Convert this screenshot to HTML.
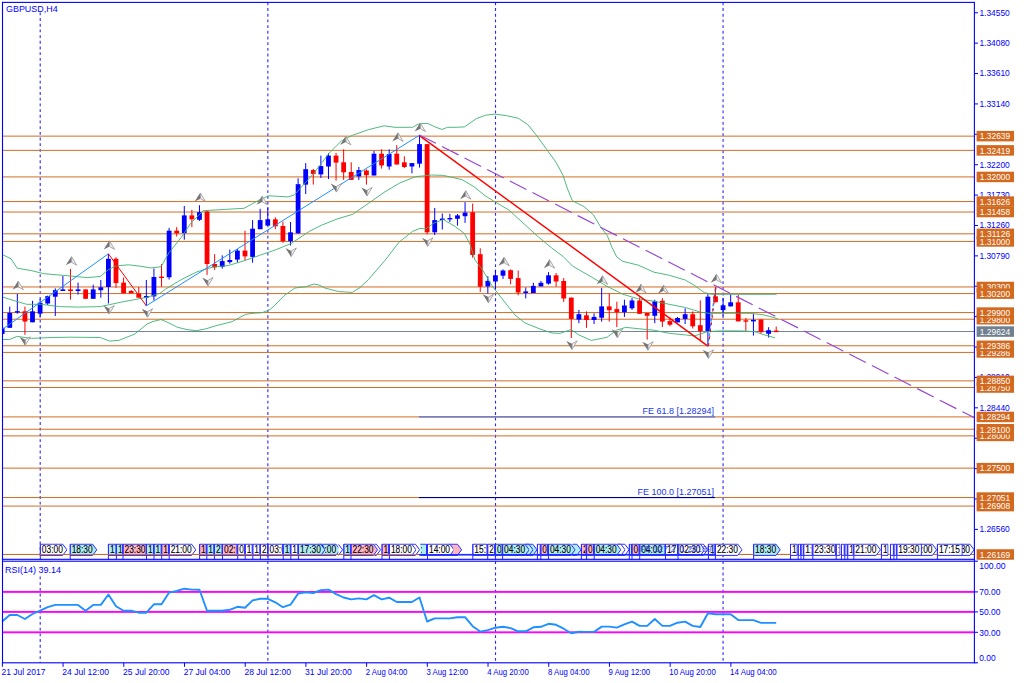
<!DOCTYPE html>
<html><head><meta charset="utf-8"><title>GBPUSD,H4</title>
<style>html,body{margin:0;padding:0;background:#fff;overflow:hidden}body{width:1024px;height:683px;font-family:"Liberation Sans",sans-serif}</style></head>
<body>
<svg width="1024" height="683" viewBox="0 0 1024 683" style="display:block">
<rect width="1024" height="683" fill="#fff"/>
<clipPath id="mainclip"><rect x="2.5" y="2" width="972" height="558"/></clipPath><g clip-path="url(#mainclip)">
<line x1="40.20" y1="12.4" x2="40.20" y2="559.3" stroke="#0000ff" stroke-width="1.1" stroke-dasharray="2.85 2.84" stroke-opacity="0.85"/>
<line x1="267.86" y1="2.4" x2="267.86" y2="559.3" stroke="#0000ff" stroke-width="1.1" stroke-dasharray="2.85 2.84" stroke-opacity="0.85"/>
<line x1="495.51" y1="2.4" x2="495.51" y2="559.3" stroke="#0000ff" stroke-width="1.1" stroke-dasharray="2.85 2.84" stroke-opacity="0.85"/>
<line x1="723.07" y1="2.4" x2="723.07" y2="559.3" stroke="#0000ff" stroke-width="1.1" stroke-dasharray="2.85 2.84" stroke-opacity="0.85"/>
<rect x="2.50" y="135.64" width="971.90" height="0.97" fill="#d2691e" />
<rect x="2.50" y="149.87" width="971.90" height="0.97" fill="#d2691e" />
<rect x="2.50" y="176.43" width="971.90" height="0.97" fill="#d2691e" />
<rect x="2.50" y="201.09" width="971.90" height="0.97" fill="#d2691e" />
<rect x="2.50" y="211.53" width="971.90" height="0.97" fill="#d2691e" />
<rect x="2.50" y="240.93" width="971.90" height="0.97" fill="#d2691e" />
<rect x="2.50" y="233.34" width="971.90" height="0.97" fill="#d2691e" />
<rect x="2.50" y="286.47" width="971.90" height="0.97" fill="#d2691e" />
<rect x="2.50" y="293.11" width="971.90" height="0.97" fill="#d2691e" />
<rect x="2.50" y="318.72" width="971.90" height="0.97" fill="#d2691e" />
<rect x="2.50" y="312.08" width="971.90" height="0.97" fill="#d2691e" />
<rect x="2.50" y="351.92" width="971.90" height="0.97" fill="#d2691e" />
<rect x="2.50" y="345.28" width="971.90" height="0.97" fill="#d2691e" />
<rect x="2.50" y="387.02" width="971.90" height="0.97" fill="#d2691e" />
<rect x="2.50" y="380.38" width="971.90" height="0.97" fill="#d2691e" />
<rect x="2.50" y="416.42" width="971.90" height="0.97" fill="#d2691e" />
<rect x="2.50" y="435.40" width="971.90" height="0.97" fill="#d2691e" />
<rect x="2.50" y="428.76" width="971.90" height="0.97" fill="#d2691e" />
<rect x="2.50" y="467.65" width="971.90" height="0.97" fill="#d2691e" />
<rect x="2.50" y="497.06" width="971.90" height="0.97" fill="#d2691e" />
<rect x="2.50" y="505.59" width="971.90" height="0.97" fill="#d2691e" />
<rect x="2.50" y="553.97" width="971.90" height="0.97" fill="#d2691e" />
<rect x="2.50" y="331.05" width="971.90" height="0.97" fill="#708090" />
<rect x="1.66" y="326.00" width="1.00" height="10.00" fill="#0000ff" />
<rect x="-0.24" y="327.80" width="4.8" height="6.20" fill="#0000ff"/>
<rect x="9.25" y="306.60" width="1.00" height="21.20" fill="#0000ff" />
<rect x="7.35" y="312.90" width="4.8" height="14.90" fill="#0000ff"/>
<rect x="16.84" y="294.00" width="1.00" height="19.70" fill="#0000ff" />
<rect x="14.94" y="311.15" width="4.8" height="1.40" fill="#0000ff"/>
<rect x="24.43" y="306.60" width="1.00" height="28.20" fill="#ff0000" />
<rect x="22.53" y="311.30" width="4.8" height="10.20" fill="#ff0000"/>
<rect x="32.01" y="300.80" width="1.00" height="21.50" fill="#0000ff" />
<rect x="30.11" y="311.30" width="4.8" height="11.00" fill="#0000ff"/>
<rect x="39.60" y="298.80" width="1.00" height="18.80" fill="#0000ff" />
<rect x="37.70" y="302.70" width="4.8" height="11.00" fill="#0000ff"/>
<rect x="47.19" y="295.60" width="1.00" height="9.40" fill="#0000ff" />
<rect x="45.29" y="296.10" width="4.8" height="7.40" fill="#0000ff"/>
<rect x="54.78" y="288.30" width="1.00" height="27.70" fill="#0000ff" />
<rect x="52.88" y="290.20" width="4.8" height="6.50" fill="#0000ff"/>
<rect x="62.37" y="276.00" width="1.00" height="15.00" fill="#0000ff" />
<rect x="60.47" y="289.40" width="4.8" height="1.60" fill="#0000ff"/>
<rect x="69.96" y="269.00" width="1.00" height="30.60" fill="#ff0000" />
<rect x="68.06" y="289.40" width="4.8" height="1.60" fill="#ff0000"/>
<rect x="77.54" y="282.60" width="1.00" height="11.90" fill="#0000ff" />
<rect x="75.64" y="289.40" width="4.8" height="1.60" fill="#0000ff"/>
<rect x="85.13" y="289.40" width="1.00" height="9.40" fill="#ff0000" />
<rect x="83.23" y="289.40" width="4.8" height="9.40" fill="#ff0000"/>
<rect x="92.72" y="284.70" width="1.00" height="14.10" fill="#0000ff" />
<rect x="90.82" y="289.40" width="4.8" height="9.40" fill="#0000ff"/>
<rect x="100.31" y="280.00" width="1.00" height="17.70" fill="#0000ff" />
<rect x="98.41" y="287.30" width="4.8" height="2.90" fill="#0000ff"/>
<rect x="107.90" y="253.80" width="1.00" height="49.70" fill="#0000ff" />
<rect x="106.00" y="258.80" width="4.8" height="28.20" fill="#0000ff"/>
<rect x="115.49" y="257.20" width="1.00" height="30.60" fill="#ff0000" />
<rect x="113.59" y="258.80" width="4.8" height="24.30" fill="#ff0000"/>
<rect x="123.08" y="277.60" width="1.00" height="15.70" fill="#ff0000" />
<rect x="121.18" y="282.60" width="4.8" height="10.70" fill="#ff0000"/>
<rect x="130.66" y="290.00" width="1.00" height="3.30" fill="#ff0000" />
<rect x="128.76" y="291.00" width="4.8" height="2.30" fill="#ff0000"/>
<rect x="138.25" y="287.00" width="1.00" height="10.70" fill="#ff0000" />
<rect x="136.35" y="293.60" width="4.8" height="4.10" fill="#ff0000"/>
<rect x="145.84" y="280.00" width="1.00" height="25.80" fill="#0000ff" />
<rect x="143.94" y="296.00" width="4.8" height="1.70" fill="#0000ff"/>
<rect x="153.43" y="268.50" width="1.00" height="32.00" fill="#0000ff" />
<rect x="151.53" y="277.00" width="4.8" height="19.40" fill="#0000ff"/>
<rect x="161.02" y="264.00" width="1.00" height="22.70" fill="#ff0000" />
<rect x="159.12" y="276.60" width="4.8" height="1.40" fill="#ff0000"/>
<rect x="168.61" y="227.90" width="1.00" height="51.70" fill="#0000ff" />
<rect x="166.71" y="230.70" width="4.8" height="46.60" fill="#0000ff"/>
<rect x="176.20" y="227.10" width="1.00" height="9.40" fill="#ff0000" />
<rect x="174.30" y="230.70" width="4.8" height="2.70" fill="#ff0000"/>
<rect x="183.78" y="206.00" width="1.00" height="33.70" fill="#0000ff" />
<rect x="181.88" y="215.40" width="4.8" height="17.70" fill="#0000ff"/>
<rect x="191.37" y="209.90" width="1.00" height="17.20" fill="#ff0000" />
<rect x="189.47" y="215.40" width="4.8" height="3.90" fill="#ff0000"/>
<rect x="198.96" y="205.20" width="1.00" height="15.70" fill="#0000ff" />
<rect x="197.06" y="212.20" width="4.8" height="7.60" fill="#0000ff"/>
<rect x="206.55" y="210.70" width="1.00" height="64.20" fill="#ff0000" />
<rect x="204.65" y="211.50" width="4.8" height="52.50" fill="#ff0000"/>
<rect x="214.14" y="254.20" width="1.00" height="15.70" fill="#ff0000" />
<rect x="212.24" y="264.00" width="4.8" height="3.40" fill="#ff0000"/>
<rect x="221.73" y="255.30" width="1.00" height="13.40" fill="#0000ff" />
<rect x="219.83" y="261.10" width="4.8" height="5.70" fill="#0000ff"/>
<rect x="229.31" y="249.50" width="1.00" height="14.20" fill="#0000ff" />
<rect x="227.41" y="260.00" width="4.8" height="2.10" fill="#0000ff"/>
<rect x="236.90" y="249.10" width="1.00" height="13.30" fill="#0000ff" />
<rect x="235.00" y="250.60" width="4.8" height="9.00" fill="#0000ff"/>
<rect x="244.49" y="230.70" width="1.00" height="29.80" fill="#ff0000" />
<rect x="242.59" y="250.60" width="4.8" height="5.80" fill="#ff0000"/>
<rect x="252.08" y="220.10" width="1.00" height="42.60" fill="#0000ff" />
<rect x="250.18" y="228.70" width="4.8" height="28.20" fill="#0000ff"/>
<rect x="259.67" y="208.80" width="1.00" height="20.40" fill="#0000ff" />
<rect x="257.77" y="220.10" width="4.8" height="9.10" fill="#0000ff"/>
<rect x="267.26" y="207.50" width="1.00" height="18.10" fill="#0000ff" />
<rect x="265.36" y="219.30" width="4.8" height="6.30" fill="#0000ff"/>
<rect x="274.85" y="217.30" width="1.00" height="11.90" fill="#ff0000" />
<rect x="272.95" y="219.30" width="4.8" height="7.00" fill="#ff0000"/>
<rect x="282.43" y="221.60" width="1.00" height="21.20" fill="#ff0000" />
<rect x="280.53" y="226.00" width="4.8" height="15.20" fill="#ff0000"/>
<rect x="290.02" y="222.00" width="1.00" height="23.50" fill="#0000ff" />
<rect x="288.12" y="232.30" width="4.8" height="8.90" fill="#0000ff"/>
<rect x="297.61" y="178.30" width="1.00" height="55.10" fill="#0000ff" />
<rect x="295.71" y="184.20" width="4.8" height="49.20" fill="#0000ff"/>
<rect x="305.20" y="163.10" width="1.00" height="30.90" fill="#0000ff" />
<rect x="303.30" y="169.20" width="4.8" height="15.40" fill="#0000ff"/>
<rect x="312.79" y="168.90" width="1.00" height="15.70" fill="#ff0000" />
<rect x="310.89" y="170.10" width="4.8" height="3.80" fill="#ff0000"/>
<rect x="320.38" y="155.60" width="1.00" height="22.40" fill="#0000ff" />
<rect x="318.48" y="166.10" width="4.8" height="8.30" fill="#0000ff"/>
<rect x="327.97" y="153.20" width="1.00" height="25.90" fill="#0000ff" />
<rect x="326.07" y="155.60" width="4.8" height="10.90" fill="#0000ff"/>
<rect x="335.55" y="152.90" width="1.00" height="27.70" fill="#ff0000" />
<rect x="333.65" y="155.60" width="4.8" height="7.00" fill="#ff0000"/>
<rect x="343.14" y="149.30" width="1.00" height="30.60" fill="#ff0000" />
<rect x="341.24" y="162.30" width="4.8" height="10.00" fill="#ff0000"/>
<rect x="350.73" y="162.30" width="1.00" height="17.60" fill="#ff0000" />
<rect x="348.83" y="172.00" width="4.8" height="7.90" fill="#ff0000"/>
<rect x="358.32" y="167.00" width="1.00" height="12.90" fill="#0000ff" />
<rect x="356.42" y="170.10" width="4.8" height="6.30" fill="#0000ff"/>
<rect x="365.91" y="169.40" width="1.00" height="15.20" fill="#ff0000" />
<rect x="364.01" y="170.50" width="4.8" height="4.70" fill="#ff0000"/>
<rect x="373.50" y="150.90" width="1.00" height="24.60" fill="#0000ff" />
<rect x="371.60" y="153.70" width="4.8" height="21.80" fill="#0000ff"/>
<rect x="381.09" y="149.30" width="1.00" height="19.30" fill="#ff0000" />
<rect x="379.19" y="153.70" width="4.8" height="11.70" fill="#ff0000"/>
<rect x="388.67" y="149.30" width="1.00" height="20.40" fill="#0000ff" />
<rect x="386.77" y="154.00" width="4.8" height="12.50" fill="#0000ff"/>
<rect x="396.26" y="145.10" width="1.00" height="19.40" fill="#ff0000" />
<rect x="394.36" y="153.70" width="4.8" height="10.80" fill="#ff0000"/>
<rect x="403.85" y="156.30" width="1.00" height="11.80" fill="#ff0000" />
<rect x="401.95" y="162.30" width="4.8" height="4.70" fill="#ff0000"/>
<rect x="411.44" y="163.10" width="1.00" height="10.20" fill="#0000ff" />
<rect x="409.54" y="163.10" width="4.8" height="3.40" fill="#0000ff"/>
<rect x="419.03" y="135.20" width="1.00" height="32.40" fill="#0000ff" />
<rect x="417.13" y="144.10" width="4.8" height="19.60" fill="#0000ff"/>
<rect x="426.62" y="144.10" width="1.00" height="90.40" fill="#ff0000" />
<rect x="424.72" y="144.10" width="4.8" height="88.20" fill="#ff0000"/>
<rect x="434.20" y="207.90" width="1.00" height="27.10" fill="#0000ff" />
<rect x="432.30" y="220.10" width="4.8" height="12.20" fill="#0000ff"/>
<rect x="441.79" y="213.50" width="1.00" height="16.00" fill="#0000ff" />
<rect x="439.89" y="218.60" width="4.8" height="1.40" fill="#0000ff"/>
<rect x="449.38" y="213.80" width="1.00" height="8.20" fill="#0000ff" />
<rect x="447.48" y="218.05" width="4.8" height="1.40" fill="#0000ff"/>
<rect x="456.97" y="214.10" width="1.00" height="11.50" fill="#0000ff" />
<rect x="455.07" y="215.40" width="4.8" height="3.40" fill="#0000ff"/>
<rect x="464.56" y="202.10" width="1.00" height="20.80" fill="#0000ff" />
<rect x="462.66" y="212.60" width="4.8" height="3.60" fill="#0000ff"/>
<rect x="472.15" y="203.60" width="1.00" height="54.10" fill="#ff0000" />
<rect x="470.25" y="212.20" width="4.8" height="42.70" fill="#ff0000"/>
<rect x="479.74" y="248.30" width="1.00" height="43.60" fill="#ff0000" />
<rect x="477.84" y="254.20" width="4.8" height="32.50" fill="#ff0000"/>
<rect x="487.32" y="276.20" width="1.00" height="17.20" fill="#0000ff" />
<rect x="485.42" y="280.90" width="4.8" height="5.50" fill="#0000ff"/>
<rect x="494.91" y="269.90" width="1.00" height="19.10" fill="#0000ff" />
<rect x="493.01" y="275.30" width="4.8" height="6.20" fill="#0000ff"/>
<rect x="502.50" y="269.40" width="1.00" height="9.50" fill="#0000ff" />
<rect x="500.60" y="270.50" width="4.8" height="5.20" fill="#0000ff"/>
<rect x="510.09" y="269.40" width="1.00" height="14.90" fill="#ff0000" />
<rect x="508.19" y="270.20" width="4.8" height="8.70" fill="#ff0000"/>
<rect x="517.68" y="270.50" width="1.00" height="24.80" fill="#ff0000" />
<rect x="515.78" y="278.10" width="4.8" height="14.40" fill="#ff0000"/>
<rect x="525.27" y="287.50" width="1.00" height="10.90" fill="#0000ff" />
<rect x="523.37" y="291.40" width="4.8" height="1.60" fill="#0000ff"/>
<rect x="532.85" y="282.80" width="1.00" height="10.20" fill="#0000ff" />
<rect x="530.95" y="285.90" width="4.8" height="7.10" fill="#0000ff"/>
<rect x="540.44" y="280.90" width="1.00" height="5.50" fill="#0000ff" />
<rect x="538.54" y="282.80" width="4.8" height="3.60" fill="#0000ff"/>
<rect x="548.03" y="272.10" width="1.00" height="12.50" fill="#0000ff" />
<rect x="546.13" y="275.30" width="4.8" height="8.30" fill="#0000ff"/>
<rect x="555.62" y="273.10" width="1.00" height="13.60" fill="#ff0000" />
<rect x="553.72" y="275.30" width="4.8" height="6.20" fill="#ff0000"/>
<rect x="563.21" y="278.10" width="1.00" height="23.90" fill="#ff0000" />
<rect x="561.31" y="281.00" width="4.8" height="17.50" fill="#ff0000"/>
<rect x="570.80" y="297.60" width="1.00" height="40.50" fill="#ff0000" />
<rect x="568.90" y="297.60" width="4.8" height="21.30" fill="#ff0000"/>
<rect x="578.39" y="309.90" width="1.00" height="13.30" fill="#0000ff" />
<rect x="576.49" y="314.20" width="4.8" height="5.40" fill="#0000ff"/>
<rect x="585.97" y="311.40" width="1.00" height="16.50" fill="#ff0000" />
<rect x="584.07" y="315.30" width="4.8" height="4.70" fill="#ff0000"/>
<rect x="593.56" y="313.30" width="1.00" height="10.70" fill="#0000ff" />
<rect x="591.66" y="316.90" width="4.8" height="3.10" fill="#0000ff"/>
<rect x="601.15" y="287.90" width="1.00" height="33.70" fill="#0000ff" />
<rect x="599.25" y="306.40" width="4.8" height="11.30" fill="#0000ff"/>
<rect x="608.74" y="293.40" width="1.00" height="28.20" fill="#ff0000" />
<rect x="606.84" y="306.40" width="4.8" height="3.80" fill="#ff0000"/>
<rect x="616.33" y="301.70" width="1.00" height="25.40" fill="#ff0000" />
<rect x="614.43" y="309.10" width="4.8" height="3.10" fill="#ff0000"/>
<rect x="623.92" y="299.70" width="1.00" height="17.20" fill="#0000ff" />
<rect x="622.02" y="305.50" width="4.8" height="6.70" fill="#0000ff"/>
<rect x="631.51" y="298.10" width="1.00" height="11.80" fill="#0000ff" />
<rect x="629.61" y="300.50" width="4.8" height="7.80" fill="#0000ff"/>
<rect x="639.09" y="297.30" width="1.00" height="16.50" fill="#ff0000" />
<rect x="637.19" y="300.50" width="4.8" height="13.30" fill="#ff0000"/>
<rect x="646.68" y="313.00" width="1.00" height="26.60" fill="#ff0000" />
<rect x="644.78" y="313.00" width="4.8" height="2.80" fill="#ff0000"/>
<rect x="654.27" y="299.70" width="1.00" height="23.50" fill="#0000ff" />
<rect x="652.37" y="301.20" width="4.8" height="14.60" fill="#0000ff"/>
<rect x="661.86" y="298.10" width="1.00" height="29.00" fill="#ff0000" />
<rect x="659.96" y="300.80" width="4.8" height="20.80" fill="#ff0000"/>
<rect x="669.45" y="317.70" width="1.00" height="8.60" fill="#ff0000" />
<rect x="667.55" y="321.10" width="4.8" height="3.60" fill="#ff0000"/>
<rect x="677.04" y="316.90" width="1.00" height="5.50" fill="#0000ff" />
<rect x="675.14" y="318.00" width="4.8" height="4.40" fill="#0000ff"/>
<rect x="684.62" y="308.30" width="1.00" height="15.70" fill="#0000ff" />
<rect x="682.73" y="314.20" width="4.8" height="4.70" fill="#0000ff"/>
<rect x="692.21" y="311.40" width="1.00" height="17.00" fill="#ff0000" />
<rect x="690.31" y="314.20" width="4.8" height="12.10" fill="#ff0000"/>
<rect x="699.80" y="300.40" width="1.00" height="39.60" fill="#ff0000" />
<rect x="697.90" y="325.20" width="4.8" height="6.00" fill="#ff0000"/>
<rect x="707.39" y="294.10" width="1.00" height="52.00" fill="#0000ff" />
<rect x="705.49" y="296.70" width="4.8" height="34.30" fill="#0000ff"/>
<rect x="714.98" y="287.00" width="1.00" height="15.20" fill="#ff0000" />
<rect x="713.08" y="296.30" width="4.8" height="5.90" fill="#ff0000"/>
<rect x="722.57" y="297.90" width="1.00" height="18.30" fill="#0000ff" />
<rect x="720.67" y="305.30" width="4.8" height="4.80" fill="#0000ff"/>
<rect x="730.16" y="294.30" width="1.00" height="12.10" fill="#0000ff" />
<rect x="728.26" y="302.30" width="4.8" height="4.10" fill="#0000ff"/>
<rect x="737.74" y="295.00" width="1.00" height="26.40" fill="#ff0000" />
<rect x="735.84" y="302.30" width="4.8" height="19.10" fill="#ff0000"/>
<rect x="745.33" y="318.00" width="1.00" height="12.90" fill="#ff0000" />
<rect x="743.43" y="320.30" width="4.8" height="1.40" fill="#ff0000"/>
<rect x="752.92" y="314.00" width="1.00" height="21.60" fill="#0000ff" />
<rect x="751.02" y="319.90" width="4.8" height="1.50" fill="#0000ff"/>
<rect x="760.51" y="319.50" width="1.00" height="14.00" fill="#ff0000" />
<rect x="758.61" y="319.50" width="4.8" height="12.60" fill="#ff0000"/>
<rect x="768.10" y="327.20" width="1.00" height="10.30" fill="#0000ff" />
<rect x="766.20" y="330.20" width="4.8" height="3.60" fill="#0000ff"/>
<rect x="775.69" y="326.50" width="1.00" height="5.60" fill="#ff0000" />
<rect x="773.79" y="330.60" width="4.8" height="1.50" fill="#ff0000"/>
<polyline points="3.1,254.9 11.0,258.8 17.2,268.2 31.3,270.6 43.9,273.7 62.7,275.3 78.4,276.8 87.8,277.6 100.3,276.4 108.2,269.8 116.0,265.9 128.5,264.8 141.0,266.3 150.5,267.9 161.0,266.8 168.8,253.0 181.3,237.3 190.8,223.2 203.3,210.7 244.0,208.3 259.7,199.7 269.0,195.8 288.0,196.9 294.2,195.0 299.4,189.3 313.5,173.6 329.2,153.2 341.7,140.7 352.7,135.2 368.4,129.7 384.0,125.8 395.0,127.3 412.6,127.3 418.4,124.1 423.1,123.5 427.8,123.5 436.0,127.3 441.9,129.4 447.7,127.3 455.0,127.3 464.5,126.9 476.2,118.7 485.6,115.2 495.0,114.1 506.7,115.7 518.4,118.3 527.8,124.6 537.2,136.3 546.5,149.2 555.9,162.1 562.9,175.0 567.6,189.0 572.3,200.7 584.0,206.6 593.4,214.8 600.4,226.5 607.4,235.9 612.1,247.6 616.8,257.0 622.7,261.3 638.4,265.2 654.0,272.2 669.7,275.4 685.4,280.1 694.8,285.6 704.2,292.6 712.0,294.3 776.5,294.3" fill="none" stroke="#3cb371" stroke-width="1.0" stroke-linejoin="round" stroke-opacity="0.9"/>
<polyline points="3.1,297.2 15.7,301.1 26.6,304.3 40.8,304.3 59.6,306.6 78.4,307.1 100.3,306.6 109.7,304.6 122.3,301.9 134.8,299.6 147.3,297.2 159.9,293.3 165.7,289.0 181.3,279.6 197.0,271.8 212.7,267.1 228.4,265.5 244.0,260.8 259.7,255.3 275.4,249.9 291.0,243.6 309.9,231.0 321.3,225.3 337.0,219.0 352.7,214.3 368.4,203.4 384.0,192.4 399.7,183.0 415.4,176.7 431.7,175.0 443.4,175.4 462.2,179.7 473.9,186.7 485.6,196.1 495.0,201.9 509.0,210.1 523.1,223.0 537.2,235.9 551.2,247.6 563.1,256.5 572.5,266.0 591.3,276.9 607.0,286.3 622.7,294.2 638.4,298.9 654.0,301.2 669.7,304.4 685.4,307.5 701.0,312.2 709.0,313.3 750.0,313.3 763.2,314.8 772.0,317.0 777.8,318.9" fill="none" stroke="#3cb371" stroke-width="1.0" stroke-linejoin="round" stroke-opacity="0.9"/>
<polyline points="3.1,339.5 9.4,339.5 17.2,336.4 31.3,338.4 51.7,337.5 70.5,337.2 100.3,337.5 109.7,341.1 119.1,340.3 134.8,334.0 147.3,323.9 153.0,321.5 160.9,319.5 168.0,322.5 177.3,327.2 187.0,329.6 196.5,330.7 206.0,328.8 215.6,325.8 232.0,321.7 245.7,314.3 254.0,313.2 262.1,312.7 270.3,309.4 277.0,303.0 284.0,295.7 294.9,288.0 305.9,286.7 314.0,284.0 319.0,285.0 325.0,288.0 338.7,291.6 352.3,292.4 360.0,287.5 368.7,279.3 385.2,260.2 398.8,242.4 412.5,231.4 420.0,228.4 425.9,228.9 434.1,223.0 443.4,219.5 455.1,226.5 464.5,233.6 470.4,245.3 475.0,260.0 482.7,270.2 492.1,285.9 504.6,302.0 515.0,315.0 525.0,323.0 540.0,329.0 552.0,333.0 560.0,333.4 571.0,329.5 578.8,334.9 591.3,340.4 607.0,337.3 616.4,330.2 625.8,327.4 638.4,328.7 654.0,330.2 669.7,333.4 685.4,334.9 694.4,336.0 707.6,331.6 719.3,330.9 741.2,330.9 754.4,331.6 763.2,334.5 775.0,337.8" fill="none" stroke="#3cb371" stroke-width="1.0" stroke-linejoin="round" stroke-opacity="0.9"/>
<rect x="418.90" y="416.36" width="296.10" height="1.10" fill="#4169e1" />
<rect x="418.90" y="496.99" width="296.10" height="1.10" fill="#000090" />
<rect x="418.90" y="553.96" width="296.10" height="1.40" fill="#2030ff" />
<polyline points="2.2,329.5 108.4,253.8" fill="none" stroke="#1e90ff" stroke-width="1.0" stroke-linejoin="round" />
<polyline points="108.4,253.8 146.3,305.8" fill="none" stroke="#ff0000" stroke-width="1.0" stroke-linejoin="round" />
<polyline points="146.3,305.8 419.5,135.2" fill="none" stroke="#1e90ff" stroke-width="1.0" stroke-linejoin="round" />
<polyline points="419.5,135.6 707.9,346.1" fill="none" stroke="#ff0000" stroke-width="1.45" stroke-linejoin="round" />
<line x1="707.9" y1="346.1" x2="715.5" y2="287" stroke="#1e90ff" stroke-width="1.2" stroke-dasharray="3 2"/>
<line x1="708.5" y1="346.1" x2="716.1" y2="287" stroke="#ff0000" stroke-width="1.0" stroke-dasharray="3 4"/>
<line x1="419.3" y1="134.9" x2="974" y2="417.6" stroke="#9545d2" stroke-width="1.15" stroke-dasharray="18.6 6.8"/>
<g transform="translate(18.0,285.5) scale(1,1)"><path d="M0,-4.6 L-5.5,4.2 L0.3,1.3 Z" fill="#757575" /><path d="M0.2,-4.4 L5.4,4.2 L0.4,1.4 Z" fill="#f0f0f0" stroke="#8f8f8f" stroke-width="0.75" stroke-linejoin="round"/></g>
<g transform="translate(71.3,261.0) scale(1,1)"><path d="M0,-4.6 L-5.5,4.2 L0.3,1.3 Z" fill="#757575" /><path d="M0.2,-4.4 L5.4,4.2 L0.4,1.4 Z" fill="#f0f0f0" stroke="#8f8f8f" stroke-width="0.75" stroke-linejoin="round"/></g>
<g transform="translate(109.2,245.2) scale(1,1)"><path d="M0,-4.6 L-5.5,4.2 L0.3,1.3 Z" fill="#757575" /><path d="M0.2,-4.4 L5.4,4.2 L0.4,1.4 Z" fill="#f0f0f0" stroke="#8f8f8f" stroke-width="0.75" stroke-linejoin="round"/></g>
<g transform="translate(200.2,197.4) scale(1,1)"><path d="M0,-4.6 L-5.5,4.2 L0.3,1.3 Z" fill="#757575" /><path d="M0.2,-4.4 L5.4,4.2 L0.4,1.4 Z" fill="#f0f0f0" stroke="#8f8f8f" stroke-width="0.75" stroke-linejoin="round"/></g>
<g transform="translate(262.0,200.5) scale(1,1)"><path d="M0,-4.6 L-5.5,4.2 L0.3,1.3 Z" fill="#757575" /><path d="M0.2,-4.4 L5.4,4.2 L0.4,1.4 Z" fill="#f0f0f0" stroke="#8f8f8f" stroke-width="0.75" stroke-linejoin="round"/></g>
<g transform="translate(345.6,140.7) scale(1,1)"><path d="M0,-4.6 L-5.5,4.2 L0.3,1.3 Z" fill="#757575" /><path d="M0.2,-4.4 L5.4,4.2 L0.4,1.4 Z" fill="#f0f0f0" stroke="#8f8f8f" stroke-width="0.75" stroke-linejoin="round"/></g>
<g transform="translate(397.8,137.2) scale(1,1)"><path d="M0,-4.6 L-5.5,4.2 L0.3,1.3 Z" fill="#757575" /><path d="M0.2,-4.4 L5.4,4.2 L0.4,1.4 Z" fill="#f0f0f0" stroke="#8f8f8f" stroke-width="0.75" stroke-linejoin="round"/></g>
<g transform="translate(420.1,127.4) scale(1,1)"><path d="M0,-4.6 L-5.5,4.2 L0.3,1.3 Z" fill="#757575" /><path d="M0.2,-4.4 L5.4,4.2 L0.4,1.4 Z" fill="#f0f0f0" stroke="#8f8f8f" stroke-width="0.75" stroke-linejoin="round"/></g>
<g transform="translate(465.5,195.0) scale(1,1)"><path d="M0,-4.6 L-5.5,4.2 L0.3,1.3 Z" fill="#757575" /><path d="M0.2,-4.4 L5.4,4.2 L0.4,1.4 Z" fill="#f0f0f0" stroke="#8f8f8f" stroke-width="0.75" stroke-linejoin="round"/></g>
<g transform="translate(503.9,261.6) scale(1,1)"><path d="M0,-4.6 L-5.5,4.2 L0.3,1.3 Z" fill="#757575" /><path d="M0.2,-4.4 L5.4,4.2 L0.4,1.4 Z" fill="#f0f0f0" stroke="#8f8f8f" stroke-width="0.75" stroke-linejoin="round"/></g>
<g transform="translate(549.3,264.0) scale(1,1)"><path d="M0,-4.6 L-5.5,4.2 L0.3,1.3 Z" fill="#757575" /><path d="M0.2,-4.4 L5.4,4.2 L0.4,1.4 Z" fill="#f0f0f0" stroke="#8f8f8f" stroke-width="0.75" stroke-linejoin="round"/></g>
<g transform="translate(602.3,280.1) scale(1,1)"><path d="M0,-4.6 L-5.5,4.2 L0.3,1.3 Z" fill="#757575" /><path d="M0.2,-4.4 L5.4,4.2 L0.4,1.4 Z" fill="#f0f0f0" stroke="#8f8f8f" stroke-width="0.75" stroke-linejoin="round"/></g>
<g transform="translate(640.7,288.7) scale(1,1)"><path d="M0,-4.6 L-5.5,4.2 L0.3,1.3 Z" fill="#757575" /><path d="M0.2,-4.4 L5.4,4.2 L0.4,1.4 Z" fill="#f0f0f0" stroke="#8f8f8f" stroke-width="0.75" stroke-linejoin="round"/></g>
<g transform="translate(663.4,289.5) scale(1,1)"><path d="M0,-4.6 L-5.5,4.2 L0.3,1.3 Z" fill="#757575" /><path d="M0.2,-4.4 L5.4,4.2 L0.4,1.4 Z" fill="#f0f0f0" stroke="#8f8f8f" stroke-width="0.75" stroke-linejoin="round"/></g>
<g transform="translate(716.2,278.6) scale(1,1)"><path d="M0,-4.6 L-5.5,4.2 L0.3,1.3 Z" fill="#757575" /><path d="M0.2,-4.4 L5.4,4.2 L0.4,1.4 Z" fill="#f0f0f0" stroke="#8f8f8f" stroke-width="0.75" stroke-linejoin="round"/></g>
<g transform="translate(25.0,341.0) scale(1,-1)"><path d="M0,-4.6 L-5.5,4.2 L0.3,1.3 Z" fill="#757575" /><path d="M0.2,-4.4 L5.4,4.2 L0.4,1.4 Z" fill="#f0f0f0" stroke="#8f8f8f" stroke-width="0.75" stroke-linejoin="round"/></g>
<g transform="translate(109.0,309.7) scale(1,-1)"><path d="M0,-4.6 L-5.5,4.2 L0.3,1.3 Z" fill="#757575" /><path d="M0.2,-4.4 L5.4,4.2 L0.4,1.4 Z" fill="#f0f0f0" stroke="#8f8f8f" stroke-width="0.75" stroke-linejoin="round"/></g>
<g transform="translate(147.3,312.9) scale(1,-1)"><path d="M0,-4.6 L-5.5,4.2 L0.3,1.3 Z" fill="#757575" /><path d="M0.2,-4.4 L5.4,4.2 L0.4,1.4 Z" fill="#f0f0f0" stroke="#8f8f8f" stroke-width="0.75" stroke-linejoin="round"/></g>
<g transform="translate(207.7,281.7) scale(1,-1)"><path d="M0,-4.6 L-5.5,4.2 L0.3,1.3 Z" fill="#757575" /><path d="M0.2,-4.4 L5.4,4.2 L0.4,1.4 Z" fill="#f0f0f0" stroke="#8f8f8f" stroke-width="0.75" stroke-linejoin="round"/></g>
<g transform="translate(291.0,252.2) scale(1,-1)"><path d="M0,-4.6 L-5.5,4.2 L0.3,1.3 Z" fill="#757575" /><path d="M0.2,-4.4 L5.4,4.2 L0.4,1.4 Z" fill="#f0f0f0" stroke="#8f8f8f" stroke-width="0.75" stroke-linejoin="round"/></g>
<g transform="translate(336.2,187.7) scale(1,-1)"><path d="M0,-4.6 L-5.5,4.2 L0.3,1.3 Z" fill="#757575" /><path d="M0.2,-4.4 L5.4,4.2 L0.4,1.4 Z" fill="#f0f0f0" stroke="#8f8f8f" stroke-width="0.75" stroke-linejoin="round"/></g>
<g transform="translate(366.8,191.6) scale(1,-1)"><path d="M0,-4.6 L-5.5,4.2 L0.3,1.3 Z" fill="#757575" /><path d="M0.2,-4.4 L5.4,4.2 L0.4,1.4 Z" fill="#f0f0f0" stroke="#8f8f8f" stroke-width="0.75" stroke-linejoin="round"/></g>
<g transform="translate(427.5,242.0) scale(1,-1)"><path d="M0,-4.6 L-5.5,4.2 L0.3,1.3 Z" fill="#757575" /><path d="M0.2,-4.4 L5.4,4.2 L0.4,1.4 Z" fill="#f0f0f0" stroke="#8f8f8f" stroke-width="0.75" stroke-linejoin="round"/></g>
<g transform="translate(488.2,298.4) scale(1,-1)"><path d="M0,-4.6 L-5.5,4.2 L0.3,1.3 Z" fill="#757575" /><path d="M0.2,-4.4 L5.4,4.2 L0.4,1.4 Z" fill="#f0f0f0" stroke="#8f8f8f" stroke-width="0.75" stroke-linejoin="round"/></g>
<g transform="translate(571.8,345.1) scale(1,-1)"><path d="M0,-4.6 L-5.5,4.2 L0.3,1.3 Z" fill="#757575" /><path d="M0.2,-4.4 L5.4,4.2 L0.4,1.4 Z" fill="#f0f0f0" stroke="#8f8f8f" stroke-width="0.75" stroke-linejoin="round"/></g>
<g transform="translate(617.2,333.4) scale(1,-1)"><path d="M0,-4.6 L-5.5,4.2 L0.3,1.3 Z" fill="#757575" /><path d="M0.2,-4.4 L5.4,4.2 L0.4,1.4 Z" fill="#f0f0f0" stroke="#8f8f8f" stroke-width="0.75" stroke-linejoin="round"/></g>
<g transform="translate(647.8,345.9) scale(1,-1)"><path d="M0,-4.6 L-5.5,4.2 L0.3,1.3 Z" fill="#757575" /><path d="M0.2,-4.4 L5.4,4.2 L0.4,1.4 Z" fill="#f0f0f0" stroke="#8f8f8f" stroke-width="0.75" stroke-linejoin="round"/></g>
<g transform="translate(708.2,354.0) scale(1,-1)"><path d="M0,-4.6 L-5.5,4.2 L0.3,1.3 Z" fill="#757575" /><path d="M0.2,-4.4 L5.4,4.2 L0.4,1.4 Z" fill="#f0f0f0" stroke="#8f8f8f" stroke-width="0.75" stroke-linejoin="round"/></g>
<text x="642.5" y="413.8" font-family="Liberation Sans, sans-serif" font-size="9.6" fill="#2038e8" text-anchor="start" textLength="71.5" lengthAdjust="spacingAndGlyphs" >FE 61.8 [1.28294]</text>
<text x="637.5" y="494.6" font-family="Liberation Sans, sans-serif" font-size="9.6" fill="#2038e8" text-anchor="start" textLength="76.5" lengthAdjust="spacingAndGlyphs" >FE 100.0 [1.27051]</text>
<g>
<clipPath id="fc0"><rect x="39.7" y="543.2" width="27.7" height="17.1"/></clipPath>
<g clip-path="url(#fc0)">
<path d="M40.3,544.2 H62.7 L66.9,549.80 L62.7,555.4 H40.3 Z" fill="#ffffff" stroke="#2a2aff" stroke-width="1"/>
<clipPath id="fc0t"><rect x="40.3" y="544.2" width="26.5" height="12"/></clipPath>
<text x="41.8" y="552.9" font-family="Liberation Sans, sans-serif" font-size="10.2" fill="#000" text-anchor="start" textLength="21.0" lengthAdjust="spacingAndGlyphs" clip-path="url(#fc0t)" stroke="#000" stroke-width="0.12">03:00</text>
</g>
<rect x="39.80" y="544.20" width="1.00" height="15.10" fill="#2a2aff" />
<clipPath id="fc1"><rect x="69.6" y="543.2" width="28.0" height="17.1"/></clipPath>
<g clip-path="url(#fc1)">
<path d="M70.2,544.2 H92.6 L96.8,549.80 L92.6,555.4 H70.2 Z" fill="#afeeee" stroke="#2a2aff" stroke-width="1"/>
<clipPath id="fc1t"><rect x="70.2" y="544.2" width="26.8" height="12"/></clipPath>
<text x="71.7" y="552.9" font-family="Liberation Sans, sans-serif" font-size="10.2" fill="#000" text-anchor="start" textLength="21.0" lengthAdjust="spacingAndGlyphs" clip-path="url(#fc1t)" stroke="#000" stroke-width="0.12">18:30</text>
</g>
<rect x="69.70" y="544.20" width="1.00" height="15.10" fill="#2a2aff" />
<clipPath id="fc2"><rect x="107.8" y="543.2" width="8.8" height="17.1"/></clipPath>
<g clip-path="url(#fc2)">
<path d="M108.4,544.2 H116.0 V555.4 H108.4 Z" fill="#afeeee" stroke="#2a2aff" stroke-width="1"/>
<clipPath id="fc2t"><rect x="108.4" y="544.2" width="6.8" height="12"/></clipPath>
<text x="109.9" y="552.9" font-family="Liberation Sans, sans-serif" font-size="10.2" fill="#000" text-anchor="start" textLength="21.0" lengthAdjust="spacingAndGlyphs" clip-path="url(#fc2t)" stroke="#000" stroke-width="0.12">17:30</text>
</g>
<rect x="107.90" y="544.20" width="1.00" height="15.10" fill="#2a2aff" />
<clipPath id="fc3"><rect x="115.8" y="543.2" width="7.4" height="17.1"/></clipPath>
<g clip-path="url(#fc3)">
<path d="M116.4,544.2 H122.6 V555.4 H116.4 Z" fill="#afeeee" stroke="#2a2aff" stroke-width="1"/>
<clipPath id="fc3t"><rect x="116.4" y="544.2" width="5.4" height="12"/></clipPath>
<text x="117.9" y="552.9" font-family="Liberation Sans, sans-serif" font-size="10.2" fill="#000" text-anchor="start" textLength="21.0" lengthAdjust="spacingAndGlyphs" clip-path="url(#fc3t)" stroke="#000" stroke-width="0.12">17:30</text>
</g>
<rect x="115.90" y="544.20" width="1.00" height="15.10" fill="#2a2aff" />
<clipPath id="fc4"><rect x="122.4" y="543.2" width="24.2" height="17.1"/></clipPath>
<g clip-path="url(#fc4)">
<path d="M123.0,544.2 H146.0 V555.4 H123.0 Z" fill="#ffb6c1" stroke="#2a2aff" stroke-width="1"/>
<clipPath id="fc4t"><rect x="123.0" y="544.2" width="22.2" height="12"/></clipPath>
<text x="124.5" y="552.9" font-family="Liberation Sans, sans-serif" font-size="10.2" fill="#000" text-anchor="start" textLength="21.0" lengthAdjust="spacingAndGlyphs" clip-path="url(#fc4t)" stroke="#000" stroke-width="0.12">23:30</text>
</g>
<rect x="122.50" y="544.20" width="1.00" height="15.10" fill="#2a2aff" />
<clipPath id="fc5"><rect x="145.9" y="543.2" width="8.2" height="17.1"/></clipPath>
<g clip-path="url(#fc5)">
<path d="M146.5,544.2 H153.5 V555.4 H146.5 Z" fill="#afeeee" stroke="#2a2aff" stroke-width="1"/>
<clipPath id="fc5t"><rect x="146.5" y="544.2" width="6.2" height="12"/></clipPath>
<text x="148.0" y="552.9" font-family="Liberation Sans, sans-serif" font-size="10.2" fill="#000" text-anchor="start" textLength="21.0" lengthAdjust="spacingAndGlyphs" clip-path="url(#fc5t)" stroke="#000" stroke-width="0.12">17:30</text>
</g>
<rect x="146.00" y="544.20" width="1.00" height="15.10" fill="#2a2aff" />
<clipPath id="fc6"><rect x="153.4" y="543.2" width="8.4" height="17.1"/></clipPath>
<g clip-path="url(#fc6)">
<path d="M154.0,544.2 H161.2 V555.4 H154.0 Z" fill="#afeeee" stroke="#2a2aff" stroke-width="1"/>
<clipPath id="fc6t"><rect x="154.0" y="544.2" width="6.4" height="12"/></clipPath>
<text x="155.5" y="552.9" font-family="Liberation Sans, sans-serif" font-size="10.2" fill="#000" text-anchor="start" textLength="21.0" lengthAdjust="spacingAndGlyphs" clip-path="url(#fc6t)" stroke="#000" stroke-width="0.12">17:30</text>
</g>
<rect x="153.50" y="544.20" width="1.00" height="15.10" fill="#2a2aff" />
<clipPath id="fc7"><rect x="161.1" y="543.2" width="8.1" height="17.1"/></clipPath>
<g clip-path="url(#fc7)">
<path d="M161.7,544.2 H168.6 V555.4 H161.7 Z" fill="#ffb6c1" stroke="#2a2aff" stroke-width="1"/>
<clipPath id="fc7t"><rect x="161.7" y="544.2" width="6.1" height="12"/></clipPath>
<text x="163.2" y="552.9" font-family="Liberation Sans, sans-serif" font-size="10.2" fill="#000" text-anchor="start" textLength="21.0" lengthAdjust="spacingAndGlyphs" clip-path="url(#fc7t)" stroke="#000" stroke-width="0.12">17:30</text>
</g>
<rect x="161.20" y="544.20" width="1.00" height="15.10" fill="#2a2aff" />
<clipPath id="fc8"><rect x="168.6" y="543.2" width="28.0" height="17.1"/></clipPath>
<g clip-path="url(#fc8)">
<path d="M169.2,544.2 H191.6 L195.8,549.80 L191.6,555.4 H169.2 Z" fill="#ffffff" stroke="#2a2aff" stroke-width="1"/>
<clipPath id="fc8t"><rect x="169.2" y="544.2" width="26.8" height="12"/></clipPath>
<text x="170.7" y="552.9" font-family="Liberation Sans, sans-serif" font-size="10.2" fill="#000" text-anchor="start" textLength="21.0" lengthAdjust="spacingAndGlyphs" clip-path="url(#fc8t)" stroke="#000" stroke-width="0.12">21:00</text>
</g>
<rect x="168.70" y="544.20" width="1.00" height="15.10" fill="#2a2aff" />
<clipPath id="fc9"><rect x="199.0" y="543.2" width="7.8" height="17.1"/></clipPath>
<g clip-path="url(#fc9)">
<path d="M199.6,544.2 H206.2 V555.4 H199.6 Z" fill="#ffb6c1" stroke="#2a2aff" stroke-width="1"/>
<clipPath id="fc9t"><rect x="199.6" y="544.2" width="5.8" height="12"/></clipPath>
<text x="201.1" y="552.9" font-family="Liberation Sans, sans-serif" font-size="10.2" fill="#000" text-anchor="start" textLength="21.0" lengthAdjust="spacingAndGlyphs" clip-path="url(#fc9t)" stroke="#000" stroke-width="0.12">17:30</text>
</g>
<rect x="199.10" y="544.20" width="1.00" height="15.10" fill="#2a2aff" />
<clipPath id="fc10"><rect x="206.2" y="543.2" width="8.2" height="17.1"/></clipPath>
<g clip-path="url(#fc10)">
<path d="M206.8,544.2 H213.8 V555.4 H206.8 Z" fill="#afeeee" stroke="#2a2aff" stroke-width="1"/>
<clipPath id="fc10t"><rect x="206.8" y="544.2" width="6.2" height="12"/></clipPath>
<text x="208.3" y="552.9" font-family="Liberation Sans, sans-serif" font-size="10.2" fill="#000" text-anchor="start" textLength="21.0" lengthAdjust="spacingAndGlyphs" clip-path="url(#fc10t)" stroke="#000" stroke-width="0.12">17:30</text>
</g>
<rect x="206.30" y="544.20" width="1.00" height="15.10" fill="#2a2aff" />
<clipPath id="fc11"><rect x="213.8" y="543.2" width="8.8" height="17.1"/></clipPath>
<g clip-path="url(#fc11)">
<path d="M214.4,544.2 H222.0 V555.4 H214.4 Z" fill="#afeeee" stroke="#2a2aff" stroke-width="1"/>
<clipPath id="fc11t"><rect x="214.4" y="544.2" width="6.8" height="12"/></clipPath>
<text x="215.9" y="552.9" font-family="Liberation Sans, sans-serif" font-size="10.2" fill="#000" text-anchor="start" textLength="21.0" lengthAdjust="spacingAndGlyphs" clip-path="url(#fc11t)" stroke="#000" stroke-width="0.12">21:30</text>
</g>
<rect x="213.90" y="544.20" width="1.00" height="15.10" fill="#2a2aff" />
<clipPath id="fc12"><rect x="221.9" y="543.2" width="15.7" height="17.1"/></clipPath>
<g clip-path="url(#fc12)">
<path d="M222.5,544.2 H237.0 V555.4 H222.5 Z" fill="#ffb6c1" stroke="#2a2aff" stroke-width="1"/>
<clipPath id="fc12t"><rect x="222.5" y="544.2" width="13.7" height="12"/></clipPath>
<text x="224.0" y="552.9" font-family="Liberation Sans, sans-serif" font-size="10.2" fill="#000" text-anchor="start" textLength="21.0" lengthAdjust="spacingAndGlyphs" clip-path="url(#fc12t)" stroke="#000" stroke-width="0.12">02:00</text>
</g>
<rect x="222.00" y="544.20" width="1.00" height="15.10" fill="#2a2aff" />
<clipPath id="fc13"><rect x="237.1" y="543.2" width="8.1" height="17.1"/></clipPath>
<g clip-path="url(#fc13)">
<path d="M237.7,544.2 H244.6 V555.4 H237.7 Z" fill="#ffffff" stroke="#2a2aff" stroke-width="1"/>
<clipPath id="fc13t"><rect x="237.7" y="544.2" width="6.1" height="12"/></clipPath>
<text x="239.2" y="552.9" font-family="Liberation Sans, sans-serif" font-size="10.2" fill="#000" text-anchor="start" textLength="21.0" lengthAdjust="spacingAndGlyphs" clip-path="url(#fc13t)" stroke="#000" stroke-width="0.12">02:00</text>
</g>
<rect x="237.20" y="544.20" width="1.00" height="15.10" fill="#2a2aff" />
<clipPath id="fc14"><rect x="244.6" y="543.2" width="8.2" height="17.1"/></clipPath>
<g clip-path="url(#fc14)">
<path d="M245.2,544.2 H252.2 V555.4 H245.2 Z" fill="#ffffff" stroke="#2a2aff" stroke-width="1"/>
<clipPath id="fc14t"><rect x="245.2" y="544.2" width="6.2" height="12"/></clipPath>
<text x="246.7" y="552.9" font-family="Liberation Sans, sans-serif" font-size="10.2" fill="#000" text-anchor="start" textLength="21.0" lengthAdjust="spacingAndGlyphs" clip-path="url(#fc14t)" stroke="#000" stroke-width="0.12">17:30</text>
</g>
<rect x="244.70" y="544.20" width="1.00" height="15.10" fill="#2a2aff" />
<clipPath id="fc15"><rect x="252.2" y="543.2" width="8.2" height="17.1"/></clipPath>
<g clip-path="url(#fc15)">
<path d="M252.8,544.2 H259.8 V555.4 H252.8 Z" fill="#ffffff" stroke="#2a2aff" stroke-width="1"/>
<clipPath id="fc15t"><rect x="252.8" y="544.2" width="6.2" height="12"/></clipPath>
<text x="254.3" y="552.9" font-family="Liberation Sans, sans-serif" font-size="10.2" fill="#000" text-anchor="start" textLength="21.0" lengthAdjust="spacingAndGlyphs" clip-path="url(#fc15t)" stroke="#000" stroke-width="0.12">17:30</text>
</g>
<rect x="252.30" y="544.20" width="1.00" height="15.10" fill="#2a2aff" />
<clipPath id="fc16"><rect x="259.8" y="543.2" width="8.3" height="17.1"/></clipPath>
<g clip-path="url(#fc16)">
<path d="M260.4,544.2 H267.5 V555.4 H260.4 Z" fill="#ffffff" stroke="#2a2aff" stroke-width="1"/>
<clipPath id="fc16t"><rect x="260.4" y="544.2" width="6.3" height="12"/></clipPath>
<text x="261.9" y="552.9" font-family="Liberation Sans, sans-serif" font-size="10.2" fill="#000" text-anchor="start" textLength="21.0" lengthAdjust="spacingAndGlyphs" clip-path="url(#fc16t)" stroke="#000" stroke-width="0.12">21:30</text>
</g>
<rect x="259.90" y="544.20" width="1.00" height="15.10" fill="#2a2aff" />
<clipPath id="fc17"><rect x="267.4" y="543.2" width="15.8" height="17.1"/></clipPath>
<g clip-path="url(#fc17)">
<path d="M268.0,544.2 H282.6 V555.4 H268.0 Z" fill="#ffffff" stroke="#2a2aff" stroke-width="1"/>
<clipPath id="fc17t"><rect x="268.0" y="544.2" width="13.8" height="12"/></clipPath>
<text x="269.5" y="552.9" font-family="Liberation Sans, sans-serif" font-size="10.2" fill="#000" text-anchor="start" textLength="21.0" lengthAdjust="spacingAndGlyphs" clip-path="url(#fc17t)" stroke="#000" stroke-width="0.12">03:00</text>
</g>
<rect x="267.50" y="544.20" width="1.00" height="15.10" fill="#2a2aff" />
<clipPath id="fc18"><rect x="282.6" y="543.2" width="8.3" height="17.1"/></clipPath>
<g clip-path="url(#fc18)">
<path d="M283.2,544.2 H290.3 V555.4 H283.2 Z" fill="#afeeee" stroke="#2a2aff" stroke-width="1"/>
<clipPath id="fc18t"><rect x="283.2" y="544.2" width="6.3" height="12"/></clipPath>
<text x="284.7" y="552.9" font-family="Liberation Sans, sans-serif" font-size="10.2" fill="#000" text-anchor="start" textLength="21.0" lengthAdjust="spacingAndGlyphs" clip-path="url(#fc18t)" stroke="#000" stroke-width="0.12">17:30</text>
</g>
<rect x="282.70" y="544.20" width="1.00" height="15.10" fill="#2a2aff" />
<clipPath id="fc19"><rect x="290.2" y="543.2" width="8.2" height="17.1"/></clipPath>
<g clip-path="url(#fc19)">
<path d="M290.8,544.2 H297.8 V555.4 H290.8 Z" fill="#ffffff" stroke="#2a2aff" stroke-width="1"/>
<clipPath id="fc19t"><rect x="290.8" y="544.2" width="6.2" height="12"/></clipPath>
<text x="292.3" y="552.9" font-family="Liberation Sans, sans-serif" font-size="10.2" fill="#000" text-anchor="start" textLength="21.0" lengthAdjust="spacingAndGlyphs" clip-path="url(#fc19t)" stroke="#000" stroke-width="0.12">17:30</text>
</g>
<rect x="290.30" y="544.20" width="1.00" height="15.10" fill="#2a2aff" />
<clipPath id="fc20"><rect x="319.4" y="543.2" width="21.6" height="17.1"/></clipPath>
<g clip-path="url(#fc20)">
<path d="M313.6,544.2 H336.0 L340.2,549.80 L336.0,555.4 H313.6 Z" fill="#afeeee" stroke="#2a2aff" stroke-width="1"/>
<clipPath id="fc20t"><rect x="320.0" y="544.2" width="20.4" height="12"/></clipPath>
<text x="315.1" y="552.9" font-family="Liberation Sans, sans-serif" font-size="10.2" fill="#000" text-anchor="start" textLength="21.0" lengthAdjust="spacingAndGlyphs" clip-path="url(#fc20t)" stroke="#000" stroke-width="0.12">19:00</text>
</g>
<clipPath id="fc21"><rect x="297.8" y="543.2" width="27.6" height="17.1"/></clipPath>
<g clip-path="url(#fc21)">
<path d="M298.4,544.2 H320.8 L325.0,549.80 L320.8,555.4 H298.4 Z" fill="#afeeee" stroke="#2a2aff" stroke-width="1"/>
<clipPath id="fc21t"><rect x="298.4" y="544.2" width="26.4" height="12"/></clipPath>
<text x="299.9" y="552.9" font-family="Liberation Sans, sans-serif" font-size="10.2" fill="#000" text-anchor="start" textLength="21.0" lengthAdjust="spacingAndGlyphs" clip-path="url(#fc21t)" stroke="#000" stroke-width="0.12">17:30</text>
</g>
<rect x="297.90" y="544.20" width="1.00" height="15.10" fill="#2a2aff" />
<clipPath id="fc22"><rect x="338.4" y="543.2" width="5.0" height="17.1"/></clipPath>
<g clip-path="url(#fc22)">
<path d="M316.0,544.2 H338.4 L342.6,549.80 L338.4,555.4 H316.0 Z" fill="#ffffff" stroke="#2a2aff" stroke-width="1"/>
</g>
<clipPath id="fc23"><rect x="343.2" y="543.2" width="7.8" height="17.1"/></clipPath>
<g clip-path="url(#fc23)">
<path d="M343.8,544.2 H350.4 V555.4 H343.8 Z" fill="#afeeee" stroke="#2a2aff" stroke-width="1"/>
<clipPath id="fc23t"><rect x="343.8" y="544.2" width="5.8" height="12"/></clipPath>
<text x="345.3" y="552.9" font-family="Liberation Sans, sans-serif" font-size="10.2" fill="#000" text-anchor="start" textLength="21.0" lengthAdjust="spacingAndGlyphs" clip-path="url(#fc23t)" stroke="#000" stroke-width="0.12">17:30</text>
</g>
<rect x="343.30" y="544.20" width="1.00" height="15.10" fill="#2a2aff" />
<clipPath id="fc24"><rect x="374.4" y="543.2" width="6.8" height="17.1"/></clipPath>
<g clip-path="url(#fc24)">
<path d="M354.0,544.2 H376.4 L380.6,549.80 L376.4,555.4 H354.0 Z" fill="#ffffff" stroke="#2a2aff" stroke-width="1"/>
</g>
<clipPath id="fc25"><rect x="350.4" y="543.2" width="28.2" height="17.1"/></clipPath>
<g clip-path="url(#fc25)">
<path d="M351.0,544.2 H373.4 L377.6,549.80 L373.4,555.4 H351.0 Z" fill="#ffb6c1" stroke="#2a2aff" stroke-width="1"/>
<clipPath id="fc25t"><rect x="351.0" y="544.2" width="27.0" height="12"/></clipPath>
<text x="352.5" y="552.9" font-family="Liberation Sans, sans-serif" font-size="10.2" fill="#000" text-anchor="start" textLength="21.0" lengthAdjust="spacingAndGlyphs" clip-path="url(#fc25t)" stroke="#000" stroke-width="0.12">22:30</text>
</g>
<rect x="350.50" y="544.20" width="1.00" height="15.10" fill="#2a2aff" />
<clipPath id="fc26"><rect x="381.4" y="543.2" width="7.8" height="17.1"/></clipPath>
<g clip-path="url(#fc26)">
<path d="M382.0,544.2 H388.6 V555.4 H382.0 Z" fill="#ffb6c1" stroke="#2a2aff" stroke-width="1"/>
<clipPath id="fc26t"><rect x="382.0" y="544.2" width="5.8" height="12"/></clipPath>
<text x="383.5" y="552.9" font-family="Liberation Sans, sans-serif" font-size="10.2" fill="#000" text-anchor="start" textLength="21.0" lengthAdjust="spacingAndGlyphs" clip-path="url(#fc26t)" stroke="#000" stroke-width="0.12">17:30</text>
</g>
<rect x="381.50" y="544.20" width="1.00" height="15.10" fill="#2a2aff" />
<clipPath id="fc27"><rect x="411.4" y="543.2" width="8.5" height="17.1"/></clipPath>
<g clip-path="url(#fc27)">
<path d="M393.0,544.2 H415.4 L419.6,549.80 L415.4,555.4 H393.0 Z" fill="#ffffff" stroke="#2a2aff" stroke-width="1"/>
</g>
<clipPath id="fc28"><rect x="388.8" y="543.2" width="27.4" height="17.1"/></clipPath>
<g clip-path="url(#fc28)">
<path d="M389.4,544.2 H411.8 L416.0,549.80 L411.8,555.4 H389.4 Z" fill="#ffffff" stroke="#2a2aff" stroke-width="1"/>
<clipPath id="fc28t"><rect x="389.4" y="544.2" width="26.2" height="12"/></clipPath>
<text x="390.9" y="552.9" font-family="Liberation Sans, sans-serif" font-size="10.2" fill="#000" text-anchor="start" textLength="21.0" lengthAdjust="spacingAndGlyphs" clip-path="url(#fc28t)" stroke="#000" stroke-width="0.12">18:00</text>
</g>
<rect x="388.90" y="544.20" width="1.00" height="15.10" fill="#2a2aff" />
<clipPath id="fc29"><rect x="420.4" y="543.2" width="6.7" height="17.1"/></clipPath>
<g clip-path="url(#fc29)">
<path d="M400.0,544.2 H426.5 V555.4 H400.0 Z" fill="#afeeee" stroke="#2a2aff" stroke-width="1"/>
<clipPath id="fc29t"><rect x="421.0" y="544.2" width="4.7" height="12"/></clipPath>
<text x="401.5" y="552.9" font-family="Liberation Sans, sans-serif" font-size="10.2" fill="#000" text-anchor="start" textLength="21.0" lengthAdjust="spacingAndGlyphs" clip-path="url(#fc29t)" stroke="#000" stroke-width="0.12">00:0:</text>
</g>
<clipPath id="fc30"><rect x="449.4" y="543.2" width="12.7" height="17.1"/></clipPath>
<g clip-path="url(#fc30)">
<path d="M435.0,544.2 H457.4 L461.6,549.80 L457.4,555.4 H435.0 Z" fill="#ffb6c1" stroke="#2a2aff" stroke-width="1"/>
</g>
<clipPath id="fc31"><rect x="426.9" y="543.2" width="26.5" height="17.1"/></clipPath>
<g clip-path="url(#fc31)">
<path d="M427.5,544.2 H449.9 L454.1,549.80 L449.9,555.4 H427.5 Z" fill="#ffffff" stroke="#2a2aff" stroke-width="1"/>
<clipPath id="fc31t"><rect x="427.5" y="544.2" width="25.3" height="12"/></clipPath>
<text x="429.0" y="552.9" font-family="Liberation Sans, sans-serif" font-size="10.2" fill="#000" text-anchor="start" textLength="21.0" lengthAdjust="spacingAndGlyphs" clip-path="url(#fc31t)" stroke="#000" stroke-width="0.12">14:00</text>
</g>
<rect x="427.00" y="544.20" width="1.00" height="15.10" fill="#2a2aff" />
<clipPath id="fc32"><rect x="472.2" y="543.2" width="15.4" height="17.1"/></clipPath>
<g clip-path="url(#fc32)">
<path d="M472.8,544.2 H487.0 V555.4 H472.8 Z" fill="#ffffff" stroke="#2a2aff" stroke-width="1"/>
<clipPath id="fc32t"><rect x="472.8" y="544.2" width="13.4" height="12"/></clipPath>
<text x="474.3" y="552.9" font-family="Liberation Sans, sans-serif" font-size="10.2" fill="#000" text-anchor="start" textLength="21.0" lengthAdjust="spacingAndGlyphs" clip-path="url(#fc32t)" stroke="#000" stroke-width="0.12">15:30</text>
</g>
<rect x="472.30" y="544.20" width="1.00" height="15.10" fill="#2a2aff" />
<clipPath id="fc33"><rect x="487.1" y="543.2" width="8.1" height="17.1"/></clipPath>
<g clip-path="url(#fc33)">
<path d="M487.7,544.2 H494.6 V555.4 H487.7 Z" fill="#ffffff" stroke="#2a2aff" stroke-width="1"/>
<clipPath id="fc33t"><rect x="487.7" y="544.2" width="6.1" height="12"/></clipPath>
<text x="489.2" y="552.9" font-family="Liberation Sans, sans-serif" font-size="10.2" fill="#000" text-anchor="start" textLength="21.0" lengthAdjust="spacingAndGlyphs" clip-path="url(#fc33t)" stroke="#000" stroke-width="0.12">21:30</text>
</g>
<rect x="487.20" y="544.20" width="1.00" height="15.10" fill="#2a2aff" />
<clipPath id="fc34"><rect x="494.8" y="543.2" width="7.8" height="17.1"/></clipPath>
<g clip-path="url(#fc34)">
<path d="M495.4,544.2 H502.0 V555.4 H495.4 Z" fill="#afeeee" stroke="#2a2aff" stroke-width="1"/>
<clipPath id="fc34t"><rect x="495.4" y="544.2" width="5.8" height="12"/></clipPath>
<text x="496.9" y="552.9" font-family="Liberation Sans, sans-serif" font-size="10.2" fill="#000" text-anchor="start" textLength="21.0" lengthAdjust="spacingAndGlyphs" clip-path="url(#fc34t)" stroke="#000" stroke-width="0.12">04:30</text>
</g>
<rect x="494.90" y="544.20" width="1.00" height="15.10" fill="#2a2aff" />
<clipPath id="fc35"><rect x="525.4" y="543.2" width="12.2" height="17.1"/></clipPath>
<g clip-path="url(#fc35)">
<path d="M510.4,544.2 H532.8 L537.0,549.80 L532.8,555.4 H510.4 Z" fill="#afeeee" stroke="#2a2aff" stroke-width="1"/>
</g>
<clipPath id="fc36"><rect x="525.4" y="543.2" width="8.2" height="17.1"/></clipPath>
<g clip-path="url(#fc36)">
<path d="M506.5,544.2 H528.9 L533.1,549.80 L528.9,555.4 H506.5 Z" fill="#afeeee" stroke="#2a2aff" stroke-width="1"/>
</g>
<clipPath id="fc37"><rect x="502.0" y="543.2" width="27.2" height="17.1"/></clipPath>
<g clip-path="url(#fc37)">
<path d="M502.6,544.2 H525.0 L529.2,549.80 L525.0,555.4 H502.6 Z" fill="#afeeee" stroke="#2a2aff" stroke-width="1"/>
<clipPath id="fc37t"><rect x="502.6" y="544.2" width="26.0" height="12"/></clipPath>
<text x="504.1" y="552.9" font-family="Liberation Sans, sans-serif" font-size="10.2" fill="#000" text-anchor="start" textLength="21.0" lengthAdjust="spacingAndGlyphs" clip-path="url(#fc37t)" stroke="#000" stroke-width="0.12">04:30</text>
</g>
<rect x="502.10" y="544.20" width="1.00" height="15.10" fill="#2a2aff" />
<clipPath id="fc38"><rect x="536.8" y="543.2" width="4.0" height="17.1"/></clipPath>
<g clip-path="url(#fc38)">
<path d="M537.4,544.2 H540.2 V555.4 H537.4 Z" fill="#ffffff" stroke="#2a2aff" stroke-width="1"/>
<clipPath id="fc38t"><rect x="537.4" y="544.2" width="2.0" height="12"/></clipPath>
<text x="538.9" y="552.9" font-family="Liberation Sans, sans-serif" font-size="10.2" fill="#000" text-anchor="start" clip-path="url(#fc38t)" stroke="#000" stroke-width="0.12">:</text>
</g>
<rect x="536.90" y="544.20" width="1.00" height="15.10" fill="#2a2aff" />
<clipPath id="fc39"><rect x="540.2" y="543.2" width="8.0" height="17.1"/></clipPath>
<g clip-path="url(#fc39)">
<path d="M540.8,544.2 H547.6 V555.4 H540.8 Z" fill="#ffb6c1" stroke="#2a2aff" stroke-width="1"/>
<clipPath id="fc39t"><rect x="540.8" y="544.2" width="6.0" height="12"/></clipPath>
<text x="542.3" y="552.9" font-family="Liberation Sans, sans-serif" font-size="10.2" fill="#000" text-anchor="start" textLength="21.0" lengthAdjust="spacingAndGlyphs" clip-path="url(#fc39t)" stroke="#000" stroke-width="0.12">04:30</text>
</g>
<rect x="540.30" y="544.20" width="1.00" height="15.10" fill="#2a2aff" />
<clipPath id="fc40"><rect x="572.4" y="543.2" width="9.2" height="17.1"/></clipPath>
<g clip-path="url(#fc40)">
<path d="M554.4,544.2 H576.8 L581.0,549.80 L576.8,555.4 H554.4 Z" fill="#afeeee" stroke="#2a2aff" stroke-width="1"/>
</g>
<clipPath id="fc41"><rect x="547.8" y="543.2" width="28.0" height="17.1"/></clipPath>
<g clip-path="url(#fc41)">
<path d="M548.4,544.2 H570.8 L575.0,549.80 L570.8,555.4 H548.4 Z" fill="#afeeee" stroke="#2a2aff" stroke-width="1"/>
<clipPath id="fc41t"><rect x="548.4" y="544.2" width="26.8" height="12"/></clipPath>
<text x="549.9" y="552.9" font-family="Liberation Sans, sans-serif" font-size="10.2" fill="#000" text-anchor="start" textLength="21.0" lengthAdjust="spacingAndGlyphs" clip-path="url(#fc41t)" stroke="#000" stroke-width="0.12">04:30</text>
</g>
<rect x="547.90" y="544.20" width="1.00" height="15.10" fill="#2a2aff" />
<clipPath id="fc42"><rect x="580.8" y="543.2" width="5.8" height="17.1"/></clipPath>
<g clip-path="url(#fc42)">
<path d="M581.4,544.2 H586.0 V555.4 H581.4 Z" fill="#ffb6c1" stroke="#2a2aff" stroke-width="1"/>
<clipPath id="fc42t"><rect x="581.4" y="544.2" width="3.8" height="12"/></clipPath>
<text x="582.9" y="552.9" font-family="Liberation Sans, sans-serif" font-size="10.2" fill="#000" text-anchor="start" clip-path="url(#fc42t)" stroke="#000" stroke-width="0.12">2</text>
</g>
<rect x="580.90" y="544.20" width="1.00" height="15.10" fill="#2a2aff" />
<clipPath id="fc43"><rect x="586.0" y="543.2" width="8.1" height="17.1"/></clipPath>
<g clip-path="url(#fc43)">
<path d="M586.6,544.2 H593.5 V555.4 H586.6 Z" fill="#ffb6c1" stroke="#2a2aff" stroke-width="1"/>
<clipPath id="fc43t"><rect x="586.6" y="544.2" width="6.1" height="12"/></clipPath>
<text x="588.1" y="552.9" font-family="Liberation Sans, sans-serif" font-size="10.2" fill="#000" text-anchor="start" textLength="21.0" lengthAdjust="spacingAndGlyphs" clip-path="url(#fc43t)" stroke="#000" stroke-width="0.12">04:30</text>
</g>
<rect x="586.10" y="544.20" width="1.00" height="15.10" fill="#2a2aff" />
<clipPath id="fc44"><rect x="617.4" y="543.2" width="12.2" height="17.1"/></clipPath>
<g clip-path="url(#fc44)">
<path d="M602.4,544.2 H624.8 L629.0,549.80 L624.8,555.4 H602.4 Z" fill="#ffffff" stroke="#2a2aff" stroke-width="1"/>
</g>
<clipPath id="fc45"><rect x="617.4" y="543.2" width="8.2" height="17.1"/></clipPath>
<g clip-path="url(#fc45)">
<path d="M598.5,544.2 H620.9 L625.1,549.80 L620.9,555.4 H598.5 Z" fill="#ffffff" stroke="#2a2aff" stroke-width="1"/>
</g>
<clipPath id="fc46"><rect x="593.6" y="543.2" width="27.5" height="17.1"/></clipPath>
<g clip-path="url(#fc46)">
<path d="M594.2,544.2 H616.6 L620.8,549.80 L616.6,555.4 H594.2 Z" fill="#afeeee" stroke="#2a2aff" stroke-width="1"/>
<clipPath id="fc46t"><rect x="594.2" y="544.2" width="26.3" height="12"/></clipPath>
<text x="595.7" y="552.9" font-family="Liberation Sans, sans-serif" font-size="10.2" fill="#000" text-anchor="start" textLength="21.0" lengthAdjust="spacingAndGlyphs" clip-path="url(#fc46t)" stroke="#000" stroke-width="0.12">04:30</text>
</g>
<rect x="593.70" y="544.20" width="1.00" height="15.10" fill="#2a2aff" />
<clipPath id="fc47"><rect x="628.7" y="543.2" width="3.4" height="17.1"/></clipPath>
<g clip-path="url(#fc47)">
<path d="M629.3,544.2 H631.5 V555.4 H629.3 Z" fill="#afeeee" stroke="#2a2aff" stroke-width="1"/>
</g>
<rect x="628.80" y="544.20" width="1.00" height="15.10" fill="#2a2aff" />
<clipPath id="fc48"><rect x="631.4" y="543.2" width="8.2" height="17.1"/></clipPath>
<g clip-path="url(#fc48)">
<path d="M632.0,544.2 H639.0 V555.4 H632.0 Z" fill="#ffb6c1" stroke="#2a2aff" stroke-width="1"/>
<clipPath id="fc48t"><rect x="632.0" y="544.2" width="6.2" height="12"/></clipPath>
<text x="633.5" y="552.9" font-family="Liberation Sans, sans-serif" font-size="10.2" fill="#000" text-anchor="start" textLength="21.0" lengthAdjust="spacingAndGlyphs" clip-path="url(#fc48t)" stroke="#000" stroke-width="0.12">04:30</text>
</g>
<rect x="631.50" y="544.20" width="1.00" height="15.10" fill="#2a2aff" />
<clipPath id="fc49"><rect x="639.1" y="543.2" width="26.5" height="17.1"/></clipPath>
<g clip-path="url(#fc49)">
<path d="M639.7,544.2 H665.0 V555.4 H639.7 Z" fill="#afeeee" stroke="#2a2aff" stroke-width="1"/>
<clipPath id="fc49t"><rect x="639.7" y="544.2" width="24.5" height="12"/></clipPath>
<text x="641.2" y="552.9" font-family="Liberation Sans, sans-serif" font-size="10.2" fill="#000" text-anchor="start" textLength="21.0" lengthAdjust="spacingAndGlyphs" clip-path="url(#fc49t)" stroke="#000" stroke-width="0.12">04:00</text>
</g>
<rect x="639.20" y="544.20" width="1.00" height="15.10" fill="#2a2aff" />
<clipPath id="fc50"><rect x="664.9" y="543.2" width="13.2" height="17.1"/></clipPath>
<g clip-path="url(#fc50)">
<path d="M665.5,544.2 H677.5 V555.4 H665.5 Z" fill="#ffffff" stroke="#2a2aff" stroke-width="1"/>
<clipPath id="fc50t"><rect x="665.5" y="544.2" width="11.2" height="12"/></clipPath>
<text x="667.0" y="552.9" font-family="Liberation Sans, sans-serif" font-size="10.2" fill="#000" text-anchor="start" textLength="21.0" lengthAdjust="spacingAndGlyphs" clip-path="url(#fc50t)" stroke="#000" stroke-width="0.12">17:30</text>
</g>
<rect x="665.00" y="544.20" width="1.00" height="15.10" fill="#2a2aff" />
<clipPath id="fc51"><rect x="700.4" y="543.2" width="7.8" height="17.1"/></clipPath>
<g clip-path="url(#fc51)">
<path d="M681.0,544.2 H703.4 L707.6,549.80 L703.4,555.4 H681.0 Z" fill="#ffffff" stroke="#2a2aff" stroke-width="1"/>
</g>
<clipPath id="fc52"><rect x="677.4" y="543.2" width="27.2" height="17.1"/></clipPath>
<g clip-path="url(#fc52)">
<path d="M678.0,544.2 H700.4 L704.6,549.80 L700.4,555.4 H678.0 Z" fill="#ffffff" stroke="#2a2aff" stroke-width="1"/>
<clipPath id="fc52t"><rect x="678.0" y="544.2" width="26.0" height="12"/></clipPath>
<text x="679.5" y="552.9" font-family="Liberation Sans, sans-serif" font-size="10.2" fill="#000" text-anchor="start" textLength="21.0" lengthAdjust="spacingAndGlyphs" clip-path="url(#fc52t)" stroke="#000" stroke-width="0.12">02:30</text>
</g>
<rect x="677.50" y="544.20" width="1.00" height="15.10" fill="#2a2aff" />
<clipPath id="fc53"><rect x="707.8" y="543.2" width="7.6" height="17.1"/></clipPath>
<g clip-path="url(#fc53)">
<path d="M708.4,544.2 H714.8 V555.4 H708.4 Z" fill="#ffffff" stroke="#2a2aff" stroke-width="1"/>
<clipPath id="fc53t"><rect x="708.4" y="544.2" width="5.6" height="12"/></clipPath>
<text x="709.9" y="552.9" font-family="Liberation Sans, sans-serif" font-size="10.2" fill="#000" text-anchor="start" textLength="21.0" lengthAdjust="spacingAndGlyphs" clip-path="url(#fc53t)" stroke="#000" stroke-width="0.12">17:30</text>
</g>
<rect x="707.90" y="544.20" width="1.00" height="15.10" fill="#2a2aff" />
<clipPath id="fc54"><rect x="714.8" y="543.2" width="27.8" height="17.1"/></clipPath>
<g clip-path="url(#fc54)">
<path d="M715.4,544.2 H737.8 L742.0,549.80 L737.8,555.4 H715.4 Z" fill="#ffffff" stroke="#2a2aff" stroke-width="1"/>
<clipPath id="fc54t"><rect x="715.4" y="544.2" width="26.6" height="12"/></clipPath>
<text x="716.9" y="552.9" font-family="Liberation Sans, sans-serif" font-size="10.2" fill="#000" text-anchor="start" textLength="21.0" lengthAdjust="spacingAndGlyphs" clip-path="url(#fc54t)" stroke="#000" stroke-width="0.12">22:30</text>
</g>
<rect x="714.90" y="544.20" width="1.00" height="15.10" fill="#2a2aff" />
<clipPath id="fc55"><rect x="753.0" y="543.2" width="28.2" height="17.1"/></clipPath>
<g clip-path="url(#fc55)">
<path d="M753.6,544.2 H776.0 L780.2,549.80 L776.0,555.4 H753.6 Z" fill="#afeeee" stroke="#2a2aff" stroke-width="1"/>
<clipPath id="fc55t"><rect x="753.6" y="544.2" width="27.0" height="12"/></clipPath>
<text x="755.1" y="552.9" font-family="Liberation Sans, sans-serif" font-size="10.2" fill="#000" text-anchor="start" textLength="21.0" lengthAdjust="spacingAndGlyphs" clip-path="url(#fc55t)" stroke="#000" stroke-width="0.12">18:30</text>
</g>
<rect x="753.10" y="544.20" width="1.00" height="15.10" fill="#2a2aff" />
<clipPath id="fc56"><rect x="789.9" y="543.2" width="7.9" height="17.1"/></clipPath>
<g clip-path="url(#fc56)">
<path d="M790.5,544.2 H797.2 V555.4 H790.5 Z" fill="#ffffff" stroke="#2a2aff" stroke-width="1"/>
<clipPath id="fc56t"><rect x="790.5" y="544.2" width="5.9" height="12"/></clipPath>
<text x="792.0" y="552.9" font-family="Liberation Sans, sans-serif" font-size="10.2" fill="#000" text-anchor="start" textLength="21.0" lengthAdjust="spacingAndGlyphs" clip-path="url(#fc56t)" stroke="#000" stroke-width="0.12">17:30</text>
</g>
<rect x="790.00" y="544.20" width="1.00" height="15.10" fill="#2a2aff" />
<clipPath id="fc57"><rect x="797.6" y="543.2" width="3.6" height="17.1"/></clipPath>
<g clip-path="url(#fc57)">
<path d="M798.2,544.2 H800.6 V555.4 H798.2 Z" fill="#ffffff" stroke="#2a2aff" stroke-width="1"/>
</g>
<rect x="797.70" y="544.20" width="1.00" height="15.10" fill="#2a2aff" />
<clipPath id="fc58"><rect x="800.4" y="543.2" width="3.4" height="17.1"/></clipPath>
<g clip-path="url(#fc58)">
<path d="M801.0,544.2 H803.2 V555.4 H801.0 Z" fill="#ffffff" stroke="#2a2aff" stroke-width="1"/>
</g>
<rect x="800.50" y="544.20" width="1.00" height="15.10" fill="#2a2aff" />
<clipPath id="fc59"><rect x="803.1" y="543.2" width="9.7" height="17.1"/></clipPath>
<g clip-path="url(#fc59)">
<path d="M803.7,544.2 H812.2 V555.4 H803.7 Z" fill="#ffffff" stroke="#2a2aff" stroke-width="1"/>
<clipPath id="fc59t"><rect x="803.7" y="544.2" width="7.7" height="12"/></clipPath>
<text x="805.2" y="552.9" font-family="Liberation Sans, sans-serif" font-size="10.2" fill="#000" text-anchor="start" textLength="16.8" lengthAdjust="spacingAndGlyphs" clip-path="url(#fc59t)" stroke="#000" stroke-width="0.12">1:30</text>
</g>
<rect x="803.20" y="544.20" width="1.00" height="15.10" fill="#2a2aff" />
<clipPath id="fc60"><rect x="812.2" y="543.2" width="24.0" height="17.1"/></clipPath>
<g clip-path="url(#fc60)">
<path d="M812.8,544.2 H835.6 V555.4 H812.8 Z" fill="#ffffff" stroke="#2a2aff" stroke-width="1"/>
<clipPath id="fc60t"><rect x="812.8" y="544.2" width="22.0" height="12"/></clipPath>
<text x="814.3" y="552.9" font-family="Liberation Sans, sans-serif" font-size="10.2" fill="#000" text-anchor="start" textLength="21.0" lengthAdjust="spacingAndGlyphs" clip-path="url(#fc60t)" stroke="#000" stroke-width="0.12">23:30</text>
</g>
<rect x="812.30" y="544.20" width="1.00" height="15.10" fill="#2a2aff" />
<clipPath id="fc61"><rect x="835.6" y="543.2" width="5.0" height="17.1"/></clipPath>
<g clip-path="url(#fc61)">
<path d="M836.2,544.2 H840.0 V555.4 H836.2 Z" fill="#ffffff" stroke="#2a2aff" stroke-width="1"/>
<clipPath id="fc61t"><rect x="836.2" y="544.2" width="3.0" height="12"/></clipPath>
<text x="837.7" y="552.9" font-family="Liberation Sans, sans-serif" font-size="10.2" fill="#000" text-anchor="start" clip-path="url(#fc61t)" stroke="#000" stroke-width="0.12">:</text>
</g>
<rect x="835.70" y="544.20" width="1.00" height="15.10" fill="#2a2aff" />
<clipPath id="fc62"><rect x="840.9" y="543.2" width="3.9" height="17.1"/></clipPath>
<g clip-path="url(#fc62)">
<path d="M841.5,544.2 H844.2 V555.4 H841.5 Z" fill="#ffffff" stroke="#2a2aff" stroke-width="1"/>
</g>
<rect x="841.00" y="544.20" width="1.00" height="15.10" fill="#2a2aff" />
<clipPath id="fc63"><rect x="844.2" y="543.2" width="3.6" height="17.1"/></clipPath>
<g clip-path="url(#fc63)">
<path d="M844.8,544.2 H847.2 V555.4 H844.8 Z" fill="#ffffff" stroke="#2a2aff" stroke-width="1"/>
</g>
<rect x="844.30" y="544.20" width="1.00" height="15.10" fill="#2a2aff" />
<clipPath id="fc64"><rect x="847.1" y="543.2" width="6.7" height="17.1"/></clipPath>
<g clip-path="url(#fc64)">
<path d="M847.7,544.2 H853.2 V555.4 H847.7 Z" fill="#ffffff" stroke="#2a2aff" stroke-width="1"/>
<clipPath id="fc64t"><rect x="847.7" y="544.2" width="4.7" height="12"/></clipPath>
<text x="849.2" y="552.9" font-family="Liberation Sans, sans-serif" font-size="10.2" fill="#000" text-anchor="start" textLength="21.0" lengthAdjust="spacingAndGlyphs" clip-path="url(#fc64t)" stroke="#000" stroke-width="0.12">17:30</text>
</g>
<rect x="847.20" y="544.20" width="1.00" height="15.10" fill="#2a2aff" />
<clipPath id="fc65"><rect x="853.2" y="543.2" width="27.8" height="17.1"/></clipPath>
<g clip-path="url(#fc65)">
<path d="M853.8,544.2 H876.2 L880.4,549.80 L876.2,555.4 H853.8 Z" fill="#ffffff" stroke="#2a2aff" stroke-width="1"/>
<clipPath id="fc65t"><rect x="853.8" y="544.2" width="26.6" height="12"/></clipPath>
<text x="855.3" y="552.9" font-family="Liberation Sans, sans-serif" font-size="10.2" fill="#000" text-anchor="start" textLength="21.0" lengthAdjust="spacingAndGlyphs" clip-path="url(#fc65t)" stroke="#000" stroke-width="0.12">21:00</text>
</g>
<rect x="853.30" y="544.20" width="1.00" height="15.10" fill="#2a2aff" />
<clipPath id="fc66"><rect x="880.8" y="543.2" width="7.8" height="17.1"/></clipPath>
<g clip-path="url(#fc66)">
<path d="M881.4,544.2 H888.0 V555.4 H881.4 Z" fill="#ffffff" stroke="#2a2aff" stroke-width="1"/>
<clipPath id="fc66t"><rect x="881.4" y="544.2" width="5.8" height="12"/></clipPath>
<text x="882.9" y="552.9" font-family="Liberation Sans, sans-serif" font-size="10.2" fill="#000" text-anchor="start" textLength="21.0" lengthAdjust="spacingAndGlyphs" clip-path="url(#fc66t)" stroke="#000" stroke-width="0.12">17:30</text>
</g>
<rect x="880.90" y="544.20" width="1.00" height="15.10" fill="#2a2aff" />
<clipPath id="fc67"><rect x="889.9" y="543.2" width="4.1" height="17.1"/></clipPath>
<g clip-path="url(#fc67)">
<path d="M890.5,544.2 H893.4 V555.4 H890.5 Z" fill="#ffffff" stroke="#2a2aff" stroke-width="1"/>
</g>
<rect x="890.00" y="544.20" width="1.00" height="15.10" fill="#2a2aff" />
<clipPath id="fc68"><rect x="893.3" y="543.2" width="3.6" height="17.1"/></clipPath>
<g clip-path="url(#fc68)">
<path d="M893.9,544.2 H896.3 V555.4 H893.9 Z" fill="#ffffff" stroke="#2a2aff" stroke-width="1"/>
</g>
<rect x="893.40" y="544.20" width="1.00" height="15.10" fill="#2a2aff" />
<clipPath id="fc69"><rect x="920.4" y="543.2" width="16.8" height="17.1"/></clipPath>
<g clip-path="url(#fc69)">
<path d="M910.0,544.2 H932.4 L936.6,549.80 L932.4,555.4 H910.0 Z" fill="#ffffff" stroke="#2a2aff" stroke-width="1"/>
<clipPath id="fc69t"><rect x="921.0" y="544.2" width="15.6" height="12"/></clipPath>
<text x="911.5" y="552.9" font-family="Liberation Sans, sans-serif" font-size="10.2" fill="#000" text-anchor="start" textLength="21.0" lengthAdjust="spacingAndGlyphs" clip-path="url(#fc69t)" stroke="#000" stroke-width="0.12">00:00</text>
</g>
<clipPath id="fc70"><rect x="896.2" y="543.2" width="25.8" height="17.1"/></clipPath>
<g clip-path="url(#fc70)">
<path d="M896.8,544.2 H921.4 V555.4 H896.8 Z" fill="#ffffff" stroke="#2a2aff" stroke-width="1"/>
<clipPath id="fc70t"><rect x="896.8" y="544.2" width="23.8" height="12"/></clipPath>
<text x="898.3" y="552.9" font-family="Liberation Sans, sans-serif" font-size="10.2" fill="#000" text-anchor="start" textLength="21.0" lengthAdjust="spacingAndGlyphs" clip-path="url(#fc70t)" stroke="#000" stroke-width="0.12">19:30</text>
</g>
<rect x="896.30" y="544.20" width="1.00" height="15.10" fill="#2a2aff" />
<clipPath id="fc71"><rect x="961.4" y="543.2" width="12.8" height="17.1"/></clipPath>
<g clip-path="url(#fc71)">
<path d="M947.5,544.2 H969.9 L974.1,549.80 L969.9,555.4 H947.5 Z" fill="#ffffff" stroke="#2a2aff" stroke-width="1"/>
<clipPath id="fc71t"><rect x="962.0" y="544.2" width="11.6" height="12"/></clipPath>
<text x="949.0" y="552.9" font-family="Liberation Sans, sans-serif" font-size="10.2" fill="#000" text-anchor="start" textLength="21.0" lengthAdjust="spacingAndGlyphs" clip-path="url(#fc71t)" stroke="#000" stroke-width="0.12">00:30</text>
</g>
<clipPath id="fc72"><rect x="936.8" y="543.2" width="26.0" height="17.1"/></clipPath>
<g clip-path="url(#fc72)">
<path d="M937.4,544.2 H962.2 V555.4 H937.4 Z" fill="#ffffff" stroke="#2a2aff" stroke-width="1"/>
<clipPath id="fc72t"><rect x="937.4" y="544.2" width="24.0" height="12"/></clipPath>
<text x="938.9" y="552.9" font-family="Liberation Sans, sans-serif" font-size="10.2" fill="#000" text-anchor="start" textLength="21.0" lengthAdjust="spacingAndGlyphs" clip-path="url(#fc72t)" stroke="#000" stroke-width="0.12">17:15</text>
</g>
<rect x="936.90" y="544.20" width="1.00" height="15.10" fill="#2a2aff" />
</g>
<rect x="2.50" y="553.96" width="416.50" height="1.00" fill="#d2691e" opacity="0.9"/>
<rect x="741.70" y="553.96" width="11.90" height="1.00" fill="#d2691e" />
<rect x="780.70" y="553.96" width="9.80" height="1.00" fill="#d2691e" />
<rect x="418.90" y="553.96" width="296.10" height="1.40" fill="#2030ff" />
<text x="640.0" y="551.8" font-family="Liberation Sans, sans-serif" font-size="9.6" fill="#2038e8" text-anchor="start" textLength="74.0" lengthAdjust="spacingAndGlyphs" opacity="0.8">FE 127.2 [1.26169]</text>
</g>
<line x1="40.20" y1="576.5" x2="40.20" y2="662.8" stroke="#0000ff" stroke-width="1.1" stroke-dasharray="2.85 2.84" stroke-opacity="0.85"/>
<line x1="267.86" y1="561.2" x2="267.86" y2="662.8" stroke="#0000ff" stroke-width="1.1" stroke-dasharray="2.85 2.84" stroke-opacity="0.85"/>
<line x1="495.51" y1="561.2" x2="495.51" y2="662.8" stroke="#0000ff" stroke-width="1.1" stroke-dasharray="2.85 2.84" stroke-opacity="0.85"/>
<line x1="723.07" y1="561.2" x2="723.07" y2="662.8" stroke="#0000ff" stroke-width="1.1" stroke-dasharray="2.85 2.84" stroke-opacity="0.85"/>
<rect x="2.50" y="590.95" width="971.90" height="1.90" fill="#ff00ff" />
<rect x="2.50" y="610.95" width="971.90" height="1.90" fill="#ff00ff" />
<rect x="2.50" y="631.35" width="971.90" height="1.90" fill="#ff00ff" />
<polyline points="2.2,621.5 9.7,615.0 17.3,615.0 24.9,619.0 32.5,614.0 40.1,610.7 47.7,607.2 55.3,604.9 62.9,604.9 70.5,604.9 78.0,604.9 85.6,610.7 93.2,604.9 100.8,604.9 108.4,594.5 116.0,606.3 123.6,610.7 131.2,610.7 138.8,612.7 146.3,612.7 153.9,604.3 161.5,604.3 169.1,592.6 176.7,591.0 184.3,588.7 191.9,589.6 199.5,589.8 207.0,610.7 214.6,610.7 222.2,610.7 229.8,609.8 237.4,606.8 245.0,607.8 252.6,600.4 260.2,598.8 267.8,598.8 275.3,602.3 282.9,607.2 290.5,604.7 298.1,593.6 305.7,592.2 313.3,593.0 320.9,590.2 328.5,589.6 336.1,594.1 343.6,597.5 351.2,599.4 358.8,598.4 366.4,599.4 374.0,595.1 381.6,599.4 389.2,597.7 396.8,602.0 404.4,602.0 411.9,602.0 419.5,597.5 427.1,621.5 434.7,618.4 442.3,618.4 449.9,618.4 457.5,617.2 465.1,617.2 472.6,626.2 480.2,631.6 487.8,630.1 495.4,627.7 503.0,626.8 510.6,628.1 518.2,631.3 525.8,631.3 533.4,627.3 540.9,626.8 548.5,623.8 556.1,624.8 563.7,628.7 571.3,633.2 578.9,631.8 586.5,631.9 594.1,631.9 601.7,626.6 609.2,626.6 616.8,627.6 624.4,624.4 632.0,621.6 639.6,625.9 647.2,625.9 654.8,619.0 662.4,625.9 669.9,625.9 677.5,622.7 685.1,621.6 692.7,625.9 700.3,627.0 707.9,613.2 715.5,614.3 723.1,614.3 730.7,614.3 738.2,620.1 745.8,620.1 753.4,620.1 761.0,622.9 768.6,622.9 776.2,622.9" fill="none" stroke="#1e90ff" stroke-width="1.9" stroke-linejoin="round" />
<rect x="1.95" y="1.90" width="1.10" height="661.40" fill="#0000ff" />
<rect x="973.85" y="1.90" width="1.10" height="661.40" fill="#0000ff" />
<rect x="2.00" y="1.85" width="972.90" height="1.10" fill="#0000ff" />
<rect x="2.00" y="558.75" width="972.90" height="1.10" fill="#0000ff" />
<rect x="2.00" y="560.65" width="975.90" height="1.10" fill="#0000ff" />
<rect x="2.00" y="662.25" width="975.90" height="1.10" fill="#0000ff" />
<rect x="974.40" y="12.25" width="3.60" height="1.00" fill="#0000ff" />
<text x="979.4" y="15.7" font-family="Liberation Sans, sans-serif" font-size="9.8" fill="#0000ff" text-anchor="start" textLength="30.4" lengthAdjust="spacingAndGlyphs" >1.34550</text>
<rect x="974.40" y="42.64" width="3.60" height="1.00" fill="#0000ff" />
<text x="979.4" y="46.0" font-family="Liberation Sans, sans-serif" font-size="9.8" fill="#0000ff" text-anchor="start" textLength="30.4" lengthAdjust="spacingAndGlyphs" >1.34080</text>
<rect x="974.40" y="73.03" width="3.60" height="1.00" fill="#0000ff" />
<text x="979.4" y="76.4" font-family="Liberation Sans, sans-serif" font-size="9.8" fill="#0000ff" text-anchor="start" textLength="30.4" lengthAdjust="spacingAndGlyphs" >1.33610</text>
<rect x="974.40" y="103.42" width="3.60" height="1.00" fill="#0000ff" />
<text x="979.4" y="106.8" font-family="Liberation Sans, sans-serif" font-size="9.8" fill="#0000ff" text-anchor="start" textLength="30.4" lengthAdjust="spacingAndGlyphs" >1.33140</text>
<rect x="974.40" y="133.81" width="3.60" height="1.00" fill="#0000ff" />
<rect x="974.40" y="164.20" width="3.60" height="1.00" fill="#0000ff" />
<text x="979.4" y="167.6" font-family="Liberation Sans, sans-serif" font-size="9.8" fill="#0000ff" text-anchor="start" textLength="30.4" lengthAdjust="spacingAndGlyphs" >1.32200</text>
<rect x="974.40" y="194.59" width="3.60" height="1.00" fill="#0000ff" />
<text x="979.4" y="198.0" font-family="Liberation Sans, sans-serif" font-size="9.8" fill="#0000ff" text-anchor="start" textLength="30.4" lengthAdjust="spacingAndGlyphs" >1.31730</text>
<rect x="974.40" y="224.98" width="3.60" height="1.00" fill="#0000ff" />
<text x="979.4" y="228.4" font-family="Liberation Sans, sans-serif" font-size="9.8" fill="#0000ff" text-anchor="start" textLength="30.4" lengthAdjust="spacingAndGlyphs" >1.31260</text>
<rect x="974.40" y="255.37" width="3.60" height="1.00" fill="#0000ff" />
<text x="979.4" y="258.8" font-family="Liberation Sans, sans-serif" font-size="9.8" fill="#0000ff" text-anchor="start" textLength="30.4" lengthAdjust="spacingAndGlyphs" >1.30790</text>
<rect x="974.40" y="285.76" width="3.60" height="1.00" fill="#0000ff" />
<rect x="974.40" y="316.15" width="3.60" height="1.00" fill="#0000ff" />
<rect x="974.40" y="346.54" width="3.60" height="1.00" fill="#0000ff" />
<rect x="974.40" y="376.93" width="3.60" height="1.00" fill="#0000ff" />
<text x="979.4" y="380.3" font-family="Liberation Sans, sans-serif" font-size="9.8" fill="#0000ff" text-anchor="start" textLength="30.4" lengthAdjust="spacingAndGlyphs" >1.28910</text>
<rect x="974.40" y="407.32" width="3.60" height="1.00" fill="#0000ff" />
<text x="979.4" y="410.7" font-family="Liberation Sans, sans-serif" font-size="9.8" fill="#0000ff" text-anchor="start" textLength="30.4" lengthAdjust="spacingAndGlyphs" >1.28440</text>
<rect x="974.40" y="437.71" width="3.60" height="1.00" fill="#0000ff" />
<rect x="974.40" y="468.10" width="3.60" height="1.00" fill="#0000ff" />
<rect x="974.40" y="498.49" width="3.60" height="1.00" fill="#0000ff" />
<rect x="974.40" y="528.88" width="3.60" height="1.00" fill="#0000ff" />
<text x="979.4" y="532.3" font-family="Liberation Sans, sans-serif" font-size="9.8" fill="#0000ff" text-anchor="start" textLength="30.4" lengthAdjust="spacingAndGlyphs" >1.26560</text>
<rect x="976.6" y="130.90" width="37.4" height="10.5" fill="#d2691e"/>
<text x="979.8" y="139.4" font-family="Liberation Sans, sans-serif" font-size="9.8" fill="#fff" text-anchor="start" textLength="30.4" lengthAdjust="spacingAndGlyphs" >1.32639</text>
<rect x="976.6" y="145.13" width="37.4" height="10.5" fill="#d2691e"/>
<text x="979.8" y="153.7" font-family="Liberation Sans, sans-serif" font-size="9.8" fill="#fff" text-anchor="start" textLength="30.4" lengthAdjust="spacingAndGlyphs" >1.32419</text>
<rect x="976.6" y="171.69" width="37.4" height="10.5" fill="#d2691e"/>
<text x="979.8" y="180.2" font-family="Liberation Sans, sans-serif" font-size="9.8" fill="#fff" text-anchor="start" textLength="30.4" lengthAdjust="spacingAndGlyphs" >1.32000</text>
<rect x="976.6" y="196.36" width="37.4" height="10.5" fill="#d2691e"/>
<text x="979.8" y="204.9" font-family="Liberation Sans, sans-serif" font-size="9.8" fill="#fff" text-anchor="start" textLength="30.4" lengthAdjust="spacingAndGlyphs" >1.31626</text>
<rect x="976.6" y="206.79" width="37.4" height="10.5" fill="#d2691e"/>
<text x="979.8" y="215.3" font-family="Liberation Sans, sans-serif" font-size="9.8" fill="#fff" text-anchor="start" textLength="30.4" lengthAdjust="spacingAndGlyphs" >1.31458</text>
<rect x="976.6" y="236.20" width="37.4" height="10.5" fill="#d2691e"/>
<text x="979.8" y="244.7" font-family="Liberation Sans, sans-serif" font-size="9.8" fill="#fff" text-anchor="start" textLength="30.4" lengthAdjust="spacingAndGlyphs" >1.31000</text>
<rect x="976.6" y="228.61" width="37.4" height="10.5" fill="#d2691e"/>
<text x="979.8" y="237.1" font-family="Liberation Sans, sans-serif" font-size="9.8" fill="#fff" text-anchor="start" textLength="30.4" lengthAdjust="spacingAndGlyphs" >1.31126</text>
<rect x="976.6" y="281.73" width="37.4" height="10.5" fill="#d2691e"/>
<text x="979.8" y="290.3" font-family="Liberation Sans, sans-serif" font-size="9.8" fill="#fff" text-anchor="start" textLength="30.4" lengthAdjust="spacingAndGlyphs" >1.30300</text>
<rect x="976.6" y="288.37" width="37.4" height="10.5" fill="#d2691e"/>
<text x="979.8" y="296.9" font-family="Liberation Sans, sans-serif" font-size="9.8" fill="#fff" text-anchor="start" textLength="30.4" lengthAdjust="spacingAndGlyphs" >1.30200</text>
<rect x="976.6" y="313.98" width="37.4" height="10.5" fill="#d2691e"/>
<text x="979.8" y="322.5" font-family="Liberation Sans, sans-serif" font-size="9.8" fill="#fff" text-anchor="start" textLength="30.4" lengthAdjust="spacingAndGlyphs" >1.29800</text>
<rect x="976.6" y="307.34" width="37.4" height="10.5" fill="#d2691e"/>
<text x="979.8" y="315.9" font-family="Liberation Sans, sans-serif" font-size="9.8" fill="#fff" text-anchor="start" textLength="30.4" lengthAdjust="spacingAndGlyphs" >1.29900</text>
<rect x="976.6" y="347.18" width="37.4" height="10.5" fill="#d2691e"/>
<text x="979.8" y="355.7" font-family="Liberation Sans, sans-serif" font-size="9.8" fill="#fff" text-anchor="start" textLength="30.4" lengthAdjust="spacingAndGlyphs" >1.29286</text>
<rect x="976.6" y="340.54" width="37.4" height="10.5" fill="#d2691e"/>
<text x="979.8" y="349.1" font-family="Liberation Sans, sans-serif" font-size="9.8" fill="#fff" text-anchor="start" textLength="30.4" lengthAdjust="spacingAndGlyphs" >1.29386</text>
<rect x="976.6" y="382.28" width="37.4" height="10.5" fill="#d2691e"/>
<text x="979.8" y="390.8" font-family="Liberation Sans, sans-serif" font-size="9.8" fill="#fff" text-anchor="start" textLength="30.4" lengthAdjust="spacingAndGlyphs" >1.28750</text>
<rect x="976.6" y="375.64" width="37.4" height="10.5" fill="#d2691e"/>
<text x="979.8" y="384.2" font-family="Liberation Sans, sans-serif" font-size="9.8" fill="#fff" text-anchor="start" textLength="30.4" lengthAdjust="spacingAndGlyphs" >1.28850</text>
<rect x="976.6" y="411.69" width="37.4" height="10.5" fill="#d2691e"/>
<text x="979.8" y="420.2" font-family="Liberation Sans, sans-serif" font-size="9.8" fill="#fff" text-anchor="start" textLength="30.4" lengthAdjust="spacingAndGlyphs" >1.28294</text>
<rect x="976.6" y="430.66" width="37.4" height="10.5" fill="#d2691e"/>
<text x="979.8" y="439.2" font-family="Liberation Sans, sans-serif" font-size="9.8" fill="#fff" text-anchor="start" textLength="30.4" lengthAdjust="spacingAndGlyphs" >1.28000</text>
<rect x="976.6" y="424.02" width="37.4" height="10.5" fill="#d2691e"/>
<text x="979.8" y="432.5" font-family="Liberation Sans, sans-serif" font-size="9.8" fill="#fff" text-anchor="start" textLength="30.4" lengthAdjust="spacingAndGlyphs" >1.28100</text>
<rect x="976.6" y="462.91" width="37.4" height="10.5" fill="#d2691e"/>
<text x="979.8" y="471.4" font-family="Liberation Sans, sans-serif" font-size="9.8" fill="#fff" text-anchor="start" textLength="30.4" lengthAdjust="spacingAndGlyphs" >1.27500</text>
<rect x="976.6" y="492.32" width="37.4" height="10.5" fill="#d2691e"/>
<text x="979.8" y="500.8" font-family="Liberation Sans, sans-serif" font-size="9.8" fill="#fff" text-anchor="start" textLength="30.4" lengthAdjust="spacingAndGlyphs" >1.27051</text>
<rect x="976.6" y="500.86" width="37.4" height="10.5" fill="#d2691e"/>
<text x="979.8" y="509.4" font-family="Liberation Sans, sans-serif" font-size="9.8" fill="#fff" text-anchor="start" textLength="30.4" lengthAdjust="spacingAndGlyphs" >1.26908</text>
<rect x="976.6" y="549.24" width="37.4" height="10.5" fill="#d2691e"/>
<text x="979.8" y="557.8" font-family="Liberation Sans, sans-serif" font-size="9.8" fill="#fff" text-anchor="start" textLength="30.4" lengthAdjust="spacingAndGlyphs" >1.26169</text>
<rect x="976.6" y="326.32" width="37.4" height="10.5" fill="#708090"/>
<text x="979.8" y="334.8" font-family="Liberation Sans, sans-serif" font-size="9.8" fill="#fff" text-anchor="start" textLength="30.4" lengthAdjust="spacingAndGlyphs" >1.29624</text>
<text x="979.2" y="568.8" font-family="Liberation Sans, sans-serif" font-size="9.8" fill="#0000ff" text-anchor="start" textLength="26.5" lengthAdjust="spacingAndGlyphs" >100.00</text>
<text x="979.2" y="595.4" font-family="Liberation Sans, sans-serif" font-size="9.8" fill="#0000ff" text-anchor="start" textLength="21.2" lengthAdjust="spacingAndGlyphs" >70.00</text>
<text x="979.2" y="615.4" font-family="Liberation Sans, sans-serif" font-size="9.8" fill="#0000ff" text-anchor="start" textLength="21.2" lengthAdjust="spacingAndGlyphs" >50.00</text>
<text x="979.2" y="635.8" font-family="Liberation Sans, sans-serif" font-size="9.8" fill="#0000ff" text-anchor="start" textLength="21.2" lengthAdjust="spacingAndGlyphs" >30.00</text>
<text x="979.2" y="661.3" font-family="Liberation Sans, sans-serif" font-size="9.8" fill="#0000ff" text-anchor="start" textLength="16.4" lengthAdjust="spacingAndGlyphs" >0.00</text>
<rect x="974.40" y="591.40" width="3.60" height="1.00" fill="#0000ff" />
<rect x="974.40" y="611.40" width="3.60" height="1.00" fill="#0000ff" />
<rect x="974.40" y="631.80" width="3.60" height="1.00" fill="#0000ff" />
<rect x="1.86" y="662.80" width="1.00" height="4.00" fill="#0000ff" />
<text x="1.6" y="675.0" font-family="Liberation Sans, sans-serif" font-size="9.8" fill="#0000ff" text-anchor="start" textLength="43.8" lengthAdjust="spacingAndGlyphs" >21 Jul 2017</text>
<rect x="62.57" y="662.80" width="1.00" height="4.00" fill="#0000ff" />
<text x="62.3" y="675.0" font-family="Liberation Sans, sans-serif" font-size="9.8" fill="#0000ff" text-anchor="start" textLength="46.6" lengthAdjust="spacingAndGlyphs" >24 Jul 12:00</text>
<rect x="123.28" y="662.80" width="1.00" height="4.00" fill="#0000ff" />
<text x="123.0" y="675.0" font-family="Liberation Sans, sans-serif" font-size="9.8" fill="#0000ff" text-anchor="start" textLength="46.6" lengthAdjust="spacingAndGlyphs" >25 Jul 20:00</text>
<rect x="183.98" y="662.80" width="1.00" height="4.00" fill="#0000ff" />
<text x="183.7" y="675.0" font-family="Liberation Sans, sans-serif" font-size="9.8" fill="#0000ff" text-anchor="start" textLength="46.6" lengthAdjust="spacingAndGlyphs" >27 Jul 04:00</text>
<rect x="244.69" y="662.80" width="1.00" height="4.00" fill="#0000ff" />
<text x="244.4" y="675.0" font-family="Liberation Sans, sans-serif" font-size="9.8" fill="#0000ff" text-anchor="start" textLength="46.6" lengthAdjust="spacingAndGlyphs" >28 Jul 12:00</text>
<rect x="305.40" y="662.80" width="1.00" height="4.00" fill="#0000ff" />
<text x="305.1" y="675.0" font-family="Liberation Sans, sans-serif" font-size="9.8" fill="#0000ff" text-anchor="start" textLength="46.6" lengthAdjust="spacingAndGlyphs" >31 Jul 20:00</text>
<rect x="366.11" y="662.80" width="1.00" height="4.00" fill="#0000ff" />
<text x="365.8" y="675.0" font-family="Liberation Sans, sans-serif" font-size="9.8" fill="#0000ff" text-anchor="start" textLength="41.6" lengthAdjust="spacingAndGlyphs" >2 Aug 04:00</text>
<rect x="426.82" y="662.80" width="1.00" height="4.00" fill="#0000ff" />
<text x="426.5" y="675.0" font-family="Liberation Sans, sans-serif" font-size="9.8" fill="#0000ff" text-anchor="start" textLength="41.6" lengthAdjust="spacingAndGlyphs" >3 Aug 12:00</text>
<rect x="487.52" y="662.80" width="1.00" height="4.00" fill="#0000ff" />
<text x="487.2" y="675.0" font-family="Liberation Sans, sans-serif" font-size="9.8" fill="#0000ff" text-anchor="start" textLength="41.6" lengthAdjust="spacingAndGlyphs" >4 Aug 20:00</text>
<rect x="548.23" y="662.80" width="1.00" height="4.00" fill="#0000ff" />
<text x="547.9" y="675.0" font-family="Liberation Sans, sans-serif" font-size="9.8" fill="#0000ff" text-anchor="start" textLength="41.6" lengthAdjust="spacingAndGlyphs" >8 Aug 04:00</text>
<rect x="608.94" y="662.80" width="1.00" height="4.00" fill="#0000ff" />
<text x="608.6" y="675.0" font-family="Liberation Sans, sans-serif" font-size="9.8" fill="#0000ff" text-anchor="start" textLength="41.6" lengthAdjust="spacingAndGlyphs" >9 Aug 12:00</text>
<rect x="669.65" y="662.80" width="1.00" height="4.00" fill="#0000ff" />
<text x="669.3" y="675.0" font-family="Liberation Sans, sans-serif" font-size="9.8" fill="#0000ff" text-anchor="start" textLength="46.6" lengthAdjust="spacingAndGlyphs" >10 Aug 20:00</text>
<rect x="730.36" y="662.80" width="1.00" height="4.00" fill="#0000ff" />
<text x="730.1" y="675.0" font-family="Liberation Sans, sans-serif" font-size="9.8" fill="#0000ff" text-anchor="start" textLength="46.6" lengthAdjust="spacingAndGlyphs" >14 Aug 04:00</text>
<text x="6.0" y="12.4" font-family="Liberation Sans, sans-serif" font-size="9.8" fill="#0000ff" text-anchor="start" textLength="51.6" lengthAdjust="spacingAndGlyphs" >GBPUSD,H4</text>
<text x="5.0" y="572.6" font-family="Liberation Sans, sans-serif" font-size="9.8" fill="#0000ff" text-anchor="start" textLength="56.0" lengthAdjust="spacingAndGlyphs" >RSI(14) 39.14</text>
</svg>
</body></html>
